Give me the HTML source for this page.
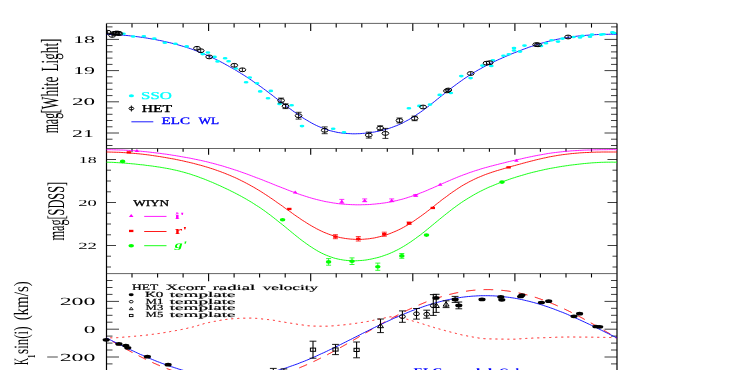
<!DOCTYPE html>
<html><head><meta charset="utf-8"><style>
html,body{margin:0;padding:0;background:#fff;overflow:hidden}
svg{display:block;will-change:transform;opacity:0.999}
text{font-family:"Liberation Serif",serif;text-rendering:geometricPrecision;}
</style></head><body>
<svg width="756" height="370" viewBox="0 0 756 370">
<rect width="756" height="370" fill="#fff"/>
<line x1="106.5" y1="23.4" x2="106.5" y2="371.0" stroke="#000" stroke-width="1.2"/>
<line x1="617.0" y1="23.4" x2="617.0" y2="371.0" stroke="#000" stroke-width="1.2"/>
<line x1="106.5" y1="23.4" x2="617.0" y2="23.4" stroke="#222" stroke-width="0.7"/>
<line x1="106.5" y1="148.5" x2="617.0" y2="148.5" stroke="#222" stroke-width="0.7"/>
<line x1="106.5" y1="273.6" x2="617.0" y2="273.6" stroke="#222" stroke-width="0.7"/>
<line x1="132.0" y1="23.4" x2="132.0" y2="27.6" stroke="#000" stroke-width="1.1"/>
<line x1="132.0" y1="148.5" x2="132.0" y2="151.7" stroke="#000" stroke-width="1.1"/>
<line x1="132.0" y1="273.6" x2="132.0" y2="277.5" stroke="#000" stroke-width="1.1"/>
<line x1="157.6" y1="23.4" x2="157.6" y2="27.6" stroke="#000" stroke-width="1.1"/>
<line x1="157.6" y1="148.5" x2="157.6" y2="151.7" stroke="#000" stroke-width="1.1"/>
<line x1="157.6" y1="273.6" x2="157.6" y2="277.5" stroke="#000" stroke-width="1.1"/>
<line x1="183.1" y1="23.4" x2="183.1" y2="27.6" stroke="#000" stroke-width="1.1"/>
<line x1="183.1" y1="148.5" x2="183.1" y2="151.7" stroke="#000" stroke-width="1.1"/>
<line x1="183.1" y1="273.6" x2="183.1" y2="277.5" stroke="#000" stroke-width="1.1"/>
<line x1="208.6" y1="23.4" x2="208.6" y2="31.0" stroke="#000" stroke-width="1.1"/>
<line x1="208.6" y1="148.5" x2="208.6" y2="154.8" stroke="#000" stroke-width="1.1"/>
<line x1="208.6" y1="273.6" x2="208.6" y2="281.2" stroke="#000" stroke-width="1.1"/>
<line x1="234.1" y1="23.4" x2="234.1" y2="27.6" stroke="#000" stroke-width="1.1"/>
<line x1="234.1" y1="148.5" x2="234.1" y2="151.7" stroke="#000" stroke-width="1.1"/>
<line x1="234.1" y1="273.6" x2="234.1" y2="277.5" stroke="#000" stroke-width="1.1"/>
<line x1="259.6" y1="23.4" x2="259.6" y2="27.6" stroke="#000" stroke-width="1.1"/>
<line x1="259.6" y1="148.5" x2="259.6" y2="151.7" stroke="#000" stroke-width="1.1"/>
<line x1="259.6" y1="273.6" x2="259.6" y2="277.5" stroke="#000" stroke-width="1.1"/>
<line x1="285.2" y1="23.4" x2="285.2" y2="27.6" stroke="#000" stroke-width="1.1"/>
<line x1="285.2" y1="148.5" x2="285.2" y2="151.7" stroke="#000" stroke-width="1.1"/>
<line x1="285.2" y1="273.6" x2="285.2" y2="277.5" stroke="#000" stroke-width="1.1"/>
<line x1="310.7" y1="23.4" x2="310.7" y2="31.0" stroke="#000" stroke-width="1.1"/>
<line x1="310.7" y1="148.5" x2="310.7" y2="154.8" stroke="#000" stroke-width="1.1"/>
<line x1="310.7" y1="273.6" x2="310.7" y2="281.2" stroke="#000" stroke-width="1.1"/>
<line x1="336.2" y1="23.4" x2="336.2" y2="27.6" stroke="#000" stroke-width="1.1"/>
<line x1="336.2" y1="148.5" x2="336.2" y2="151.7" stroke="#000" stroke-width="1.1"/>
<line x1="336.2" y1="273.6" x2="336.2" y2="277.5" stroke="#000" stroke-width="1.1"/>
<line x1="361.8" y1="23.4" x2="361.8" y2="27.6" stroke="#000" stroke-width="1.1"/>
<line x1="361.8" y1="148.5" x2="361.8" y2="151.7" stroke="#000" stroke-width="1.1"/>
<line x1="361.8" y1="273.6" x2="361.8" y2="277.5" stroke="#000" stroke-width="1.1"/>
<line x1="387.3" y1="23.4" x2="387.3" y2="27.6" stroke="#000" stroke-width="1.1"/>
<line x1="387.3" y1="148.5" x2="387.3" y2="151.7" stroke="#000" stroke-width="1.1"/>
<line x1="387.3" y1="273.6" x2="387.3" y2="277.5" stroke="#000" stroke-width="1.1"/>
<line x1="412.8" y1="23.4" x2="412.8" y2="31.0" stroke="#000" stroke-width="1.1"/>
<line x1="412.8" y1="148.5" x2="412.8" y2="154.8" stroke="#000" stroke-width="1.1"/>
<line x1="412.8" y1="273.6" x2="412.8" y2="281.2" stroke="#000" stroke-width="1.1"/>
<line x1="438.3" y1="23.4" x2="438.3" y2="27.6" stroke="#000" stroke-width="1.1"/>
<line x1="438.3" y1="148.5" x2="438.3" y2="151.7" stroke="#000" stroke-width="1.1"/>
<line x1="438.3" y1="273.6" x2="438.3" y2="277.5" stroke="#000" stroke-width="1.1"/>
<line x1="463.8" y1="23.4" x2="463.8" y2="27.6" stroke="#000" stroke-width="1.1"/>
<line x1="463.8" y1="148.5" x2="463.8" y2="151.7" stroke="#000" stroke-width="1.1"/>
<line x1="463.8" y1="273.6" x2="463.8" y2="277.5" stroke="#000" stroke-width="1.1"/>
<line x1="489.4" y1="23.4" x2="489.4" y2="27.6" stroke="#000" stroke-width="1.1"/>
<line x1="489.4" y1="148.5" x2="489.4" y2="151.7" stroke="#000" stroke-width="1.1"/>
<line x1="489.4" y1="273.6" x2="489.4" y2="277.5" stroke="#000" stroke-width="1.1"/>
<line x1="514.9" y1="23.4" x2="514.9" y2="31.0" stroke="#000" stroke-width="1.1"/>
<line x1="514.9" y1="148.5" x2="514.9" y2="154.8" stroke="#000" stroke-width="1.1"/>
<line x1="514.9" y1="273.6" x2="514.9" y2="281.2" stroke="#000" stroke-width="1.1"/>
<line x1="540.4" y1="23.4" x2="540.4" y2="27.6" stroke="#000" stroke-width="1.1"/>
<line x1="540.4" y1="148.5" x2="540.4" y2="151.7" stroke="#000" stroke-width="1.1"/>
<line x1="540.4" y1="273.6" x2="540.4" y2="277.5" stroke="#000" stroke-width="1.1"/>
<line x1="566.0" y1="23.4" x2="566.0" y2="27.6" stroke="#000" stroke-width="1.1"/>
<line x1="566.0" y1="148.5" x2="566.0" y2="151.7" stroke="#000" stroke-width="1.1"/>
<line x1="566.0" y1="273.6" x2="566.0" y2="277.5" stroke="#000" stroke-width="1.1"/>
<line x1="591.5" y1="23.4" x2="591.5" y2="27.6" stroke="#000" stroke-width="1.1"/>
<line x1="591.5" y1="148.5" x2="591.5" y2="151.7" stroke="#000" stroke-width="1.1"/>
<line x1="591.5" y1="273.6" x2="591.5" y2="277.5" stroke="#000" stroke-width="1.1"/>
<line x1="106.5" y1="26.9" x2="112.5" y2="26.9" stroke="#000" stroke-width="0.75"/>
<line x1="611.0" y1="26.9" x2="617.0" y2="26.9" stroke="#000" stroke-width="0.75"/>
<line x1="106.5" y1="33.2" x2="112.5" y2="33.2" stroke="#000" stroke-width="0.75"/>
<line x1="611.0" y1="33.2" x2="617.0" y2="33.2" stroke="#000" stroke-width="0.75"/>
<line x1="106.5" y1="39.4" x2="119.0" y2="39.4" stroke="#000" stroke-width="0.75"/>
<line x1="604.5" y1="39.4" x2="617.0" y2="39.4" stroke="#000" stroke-width="0.75"/>
<line x1="106.5" y1="45.6" x2="112.5" y2="45.6" stroke="#000" stroke-width="0.75"/>
<line x1="611.0" y1="45.6" x2="617.0" y2="45.6" stroke="#000" stroke-width="0.75"/>
<line x1="106.5" y1="51.9" x2="112.5" y2="51.9" stroke="#000" stroke-width="0.75"/>
<line x1="611.0" y1="51.9" x2="617.0" y2="51.9" stroke="#000" stroke-width="0.75"/>
<line x1="106.5" y1="58.1" x2="112.5" y2="58.1" stroke="#000" stroke-width="0.75"/>
<line x1="611.0" y1="58.1" x2="617.0" y2="58.1" stroke="#000" stroke-width="0.75"/>
<line x1="106.5" y1="64.4" x2="112.5" y2="64.4" stroke="#000" stroke-width="0.75"/>
<line x1="611.0" y1="64.4" x2="617.0" y2="64.4" stroke="#000" stroke-width="0.75"/>
<line x1="106.5" y1="70.6" x2="119.0" y2="70.6" stroke="#000" stroke-width="0.75"/>
<line x1="604.5" y1="70.6" x2="617.0" y2="70.6" stroke="#000" stroke-width="0.75"/>
<line x1="106.5" y1="76.8" x2="112.5" y2="76.8" stroke="#000" stroke-width="0.75"/>
<line x1="611.0" y1="76.8" x2="617.0" y2="76.8" stroke="#000" stroke-width="0.75"/>
<line x1="106.5" y1="83.1" x2="112.5" y2="83.1" stroke="#000" stroke-width="0.75"/>
<line x1="611.0" y1="83.1" x2="617.0" y2="83.1" stroke="#000" stroke-width="0.75"/>
<line x1="106.5" y1="89.3" x2="112.5" y2="89.3" stroke="#000" stroke-width="0.75"/>
<line x1="611.0" y1="89.3" x2="617.0" y2="89.3" stroke="#000" stroke-width="0.75"/>
<line x1="106.5" y1="95.6" x2="112.5" y2="95.6" stroke="#000" stroke-width="0.75"/>
<line x1="611.0" y1="95.6" x2="617.0" y2="95.6" stroke="#000" stroke-width="0.75"/>
<line x1="106.5" y1="101.8" x2="119.0" y2="101.8" stroke="#000" stroke-width="0.75"/>
<line x1="604.5" y1="101.8" x2="617.0" y2="101.8" stroke="#000" stroke-width="0.75"/>
<line x1="106.5" y1="108.0" x2="112.5" y2="108.0" stroke="#000" stroke-width="0.75"/>
<line x1="611.0" y1="108.0" x2="617.0" y2="108.0" stroke="#000" stroke-width="0.75"/>
<line x1="106.5" y1="114.3" x2="112.5" y2="114.3" stroke="#000" stroke-width="0.75"/>
<line x1="611.0" y1="114.3" x2="617.0" y2="114.3" stroke="#000" stroke-width="0.75"/>
<line x1="106.5" y1="120.5" x2="112.5" y2="120.5" stroke="#000" stroke-width="0.75"/>
<line x1="611.0" y1="120.5" x2="617.0" y2="120.5" stroke="#000" stroke-width="0.75"/>
<line x1="106.5" y1="126.8" x2="112.5" y2="126.8" stroke="#000" stroke-width="0.75"/>
<line x1="611.0" y1="126.8" x2="617.0" y2="126.8" stroke="#000" stroke-width="0.75"/>
<line x1="106.5" y1="133.0" x2="119.0" y2="133.0" stroke="#000" stroke-width="0.75"/>
<line x1="604.5" y1="133.0" x2="617.0" y2="133.0" stroke="#000" stroke-width="0.75"/>
<line x1="106.5" y1="139.2" x2="112.5" y2="139.2" stroke="#000" stroke-width="0.75"/>
<line x1="611.0" y1="139.2" x2="617.0" y2="139.2" stroke="#000" stroke-width="0.75"/>
<line x1="106.5" y1="145.5" x2="112.5" y2="145.5" stroke="#000" stroke-width="0.75"/>
<line x1="611.0" y1="145.5" x2="617.0" y2="145.5" stroke="#000" stroke-width="0.75"/>
<line x1="106.5" y1="159.5" x2="116.0" y2="159.5" stroke="#000" stroke-width="0.75"/>
<line x1="607.5" y1="159.5" x2="617.0" y2="159.5" stroke="#000" stroke-width="0.75"/>
<line x1="106.5" y1="170.2" x2="111.0" y2="170.2" stroke="#000" stroke-width="0.75"/>
<line x1="612.5" y1="170.2" x2="617.0" y2="170.2" stroke="#000" stroke-width="0.75"/>
<line x1="106.5" y1="181.0" x2="111.0" y2="181.0" stroke="#000" stroke-width="0.75"/>
<line x1="612.5" y1="181.0" x2="617.0" y2="181.0" stroke="#000" stroke-width="0.75"/>
<line x1="106.5" y1="191.8" x2="111.0" y2="191.8" stroke="#000" stroke-width="0.75"/>
<line x1="612.5" y1="191.8" x2="617.0" y2="191.8" stroke="#000" stroke-width="0.75"/>
<line x1="106.5" y1="202.5" x2="116.0" y2="202.5" stroke="#000" stroke-width="0.75"/>
<line x1="607.5" y1="202.5" x2="617.0" y2="202.5" stroke="#000" stroke-width="0.75"/>
<line x1="106.5" y1="213.2" x2="111.0" y2="213.2" stroke="#000" stroke-width="0.75"/>
<line x1="612.5" y1="213.2" x2="617.0" y2="213.2" stroke="#000" stroke-width="0.75"/>
<line x1="106.5" y1="224.0" x2="111.0" y2="224.0" stroke="#000" stroke-width="0.75"/>
<line x1="612.5" y1="224.0" x2="617.0" y2="224.0" stroke="#000" stroke-width="0.75"/>
<line x1="106.5" y1="234.8" x2="111.0" y2="234.8" stroke="#000" stroke-width="0.75"/>
<line x1="612.5" y1="234.8" x2="617.0" y2="234.8" stroke="#000" stroke-width="0.75"/>
<line x1="106.5" y1="245.5" x2="116.0" y2="245.5" stroke="#000" stroke-width="0.75"/>
<line x1="607.5" y1="245.5" x2="617.0" y2="245.5" stroke="#000" stroke-width="0.75"/>
<line x1="106.5" y1="256.2" x2="111.0" y2="256.2" stroke="#000" stroke-width="0.75"/>
<line x1="612.5" y1="256.2" x2="617.0" y2="256.2" stroke="#000" stroke-width="0.75"/>
<line x1="106.5" y1="267.0" x2="111.0" y2="267.0" stroke="#000" stroke-width="0.75"/>
<line x1="612.5" y1="267.0" x2="617.0" y2="267.0" stroke="#000" stroke-width="0.75"/>
<line x1="106.5" y1="280.5" x2="112.5" y2="280.5" stroke="#000" stroke-width="0.75"/>
<line x1="611.0" y1="280.5" x2="617.0" y2="280.5" stroke="#000" stroke-width="0.75"/>
<line x1="106.5" y1="287.5" x2="112.5" y2="287.5" stroke="#000" stroke-width="0.75"/>
<line x1="611.0" y1="287.5" x2="617.0" y2="287.5" stroke="#000" stroke-width="0.75"/>
<line x1="106.5" y1="294.4" x2="112.5" y2="294.4" stroke="#000" stroke-width="0.75"/>
<line x1="611.0" y1="294.4" x2="617.0" y2="294.4" stroke="#000" stroke-width="0.75"/>
<line x1="106.5" y1="301.4" x2="119.0" y2="301.4" stroke="#000" stroke-width="0.75"/>
<line x1="604.5" y1="301.4" x2="617.0" y2="301.4" stroke="#000" stroke-width="0.75"/>
<line x1="106.5" y1="308.3" x2="112.5" y2="308.3" stroke="#000" stroke-width="0.75"/>
<line x1="611.0" y1="308.3" x2="617.0" y2="308.3" stroke="#000" stroke-width="0.75"/>
<line x1="106.5" y1="315.3" x2="112.5" y2="315.3" stroke="#000" stroke-width="0.75"/>
<line x1="611.0" y1="315.3" x2="617.0" y2="315.3" stroke="#000" stroke-width="0.75"/>
<line x1="106.5" y1="322.2" x2="112.5" y2="322.2" stroke="#000" stroke-width="0.75"/>
<line x1="611.0" y1="322.2" x2="617.0" y2="322.2" stroke="#000" stroke-width="0.75"/>
<line x1="106.5" y1="329.2" x2="119.0" y2="329.2" stroke="#000" stroke-width="0.75"/>
<line x1="604.5" y1="329.2" x2="617.0" y2="329.2" stroke="#000" stroke-width="0.75"/>
<line x1="106.5" y1="336.1" x2="112.5" y2="336.1" stroke="#000" stroke-width="0.75"/>
<line x1="611.0" y1="336.1" x2="617.0" y2="336.1" stroke="#000" stroke-width="0.75"/>
<line x1="106.5" y1="343.1" x2="112.5" y2="343.1" stroke="#000" stroke-width="0.75"/>
<line x1="611.0" y1="343.1" x2="617.0" y2="343.1" stroke="#000" stroke-width="0.75"/>
<line x1="106.5" y1="350.0" x2="112.5" y2="350.0" stroke="#000" stroke-width="0.75"/>
<line x1="611.0" y1="350.0" x2="617.0" y2="350.0" stroke="#000" stroke-width="0.75"/>
<line x1="106.5" y1="357.0" x2="119.0" y2="357.0" stroke="#000" stroke-width="0.75"/>
<line x1="604.5" y1="357.0" x2="617.0" y2="357.0" stroke="#000" stroke-width="0.75"/>
<line x1="106.5" y1="363.9" x2="112.5" y2="363.9" stroke="#000" stroke-width="0.75"/>
<line x1="611.0" y1="363.9" x2="617.0" y2="363.9" stroke="#000" stroke-width="0.75"/>
<line x1="106.5" y1="370.9" x2="112.5" y2="370.9" stroke="#000" stroke-width="0.75"/>
<line x1="611.0" y1="370.9" x2="617.0" y2="370.9" stroke="#000" stroke-width="0.75"/>
<text transform="translate(73.13,43.30) scale(2.116,1)" font-size="10.37" font-weight="normal" font-style="normal" fill="#000" >18</text>
<text transform="translate(73.13,74.00) scale(2.100,1)" font-size="10.45" font-weight="normal" font-style="normal" fill="#000" >19</text>
<text transform="translate(71.96,105.30) scale(2.234,1)" font-size="10.37" font-weight="normal" font-style="normal" fill="#000" >20</text>
<text transform="translate(72.02,136.70) scale(2.054,1)" font-size="10.61" font-weight="normal" font-style="normal" fill="#000" >21</text>
<text transform="translate(78.77,162.91) scale(1.953,1)" font-size="9.19" font-weight="normal" font-style="normal" fill="#000" >18</text>
<text transform="translate(78.16,205.81) scale(2.023,1)" font-size="9.19" font-weight="normal" font-style="normal" fill="#000" >20</text>
<text transform="translate(78.15,248.90) scale(2.011,1)" font-size="9.39" font-weight="normal" font-style="normal" fill="#000" >22</text>
<text transform="translate(59.63,305.09) scale(2.179,1)" font-size="10.96" font-weight="normal" font-style="normal" fill="#000" >200</text>
<text transform="translate(83.77,332.89) scale(2.188,1)" font-size="10.67" font-weight="normal" font-style="normal" fill="#000" >0</text>
<text transform="translate(59.63,360.59) scale(2.209,1)" font-size="10.81" font-weight="normal" font-style="normal" fill="#000" >200</text>
<line x1="47.2" y1="357.0" x2="57.8" y2="357.0" stroke="#000" stroke-width="0.7"/>
<text transform="translate(58.47,113.60) rotate(-90) scale(1.108,2.058)" font-size="12.0" font-weight="normal" fill="#000">[White</text>
<text transform="translate(58.47,133.34) rotate(-90) scale(0.987,2.058)" font-size="12.0" font-weight="normal" fill="#000">mag</text>
<text transform="translate(58.47,71.39) rotate(-90) scale(1.093,2.058)" font-size="12.0" font-weight="normal" fill="#000">Light]</text>
<text transform="translate(64.48,219.53) rotate(-90) scale(1.028,1.988)" font-size="12.0" font-weight="normal" fill="#000">[SDSS]</text>
<text transform="translate(64.48,240.55) rotate(-90) scale(1.027,1.988)" font-size="12.0" font-weight="normal" fill="#000">mag</text>
<text transform="translate(34.50,358.12) rotate(-90) scale(0.541,0.909)" font-size="12.0" font-weight="bold" fill="#000">1</text>
<text transform="translate(28.11,320.37) rotate(-90) scale(1.248,1.703)" font-size="12.0" font-weight="normal" fill="#000">(km/s)</text>
<text transform="translate(28.11,353.92) rotate(-90) scale(1.084,1.703)" font-size="12.0" font-weight="normal" fill="#000">sin(i)</text>
<text transform="translate(28.11,365.00) rotate(-90) scale(0.821,1.703)" font-size="12.0" font-weight="normal" fill="#000">K</text>
<clipPath id="c1"><rect x="106.5" y="23" width="510.5" height="126"/></clipPath><g clip-path="url(#c1)">
<path d="M106.5,34.3 L108.2,34.3 L109.9,34.4 L111.6,34.5 L113.3,34.5 L115.0,34.6 L116.7,34.7 L118.5,34.8 L120.2,34.9 L121.9,35.1 L123.6,35.2 L125.3,35.4 L127.0,35.5 L128.7,35.7 L130.4,35.9 L132.1,36.1 L133.8,36.3 L135.5,36.5 L137.2,36.7 L138.9,36.9 L140.6,37.2 L142.4,37.4 L144.1,37.7 L145.8,37.9 L147.5,38.2 L149.2,38.5 L150.9,38.8 L152.6,39.1 L154.3,39.4 L156.0,39.7 L157.7,40.1 L159.4,40.4 L161.1,40.7 L162.8,41.1 L164.6,41.5 L166.3,41.9 L168.0,42.3 L169.7,42.7 L171.4,43.1 L173.1,43.5 L174.8,44.0 L176.5,44.4 L178.2,44.9 L179.9,45.4 L181.6,45.9 L183.3,46.4 L185.0,46.9 L186.7,47.5 L188.5,48.0 L190.2,48.6 L191.9,49.2 L193.6,49.8 L195.3,50.5 L197.0,51.1 L198.7,51.8 L200.4,52.5 L202.1,53.2 L203.8,53.9 L205.5,54.6 L207.2,55.4 L208.9,56.1 L210.6,56.9 L212.4,57.7 L214.1,58.5 L215.8,59.4 L217.5,60.2 L219.2,61.1 L220.9,61.9 L222.6,62.8 L224.3,63.7 L226.0,64.7 L227.7,65.6 L229.4,66.6 L231.1,67.5 L232.8,68.5 L234.6,69.5 L236.3,70.5 L238.0,71.6 L239.7,72.6 L241.4,73.7 L243.1,74.7 L244.8,75.8 L246.5,76.9 L248.2,78.0 L249.9,79.2 L251.6,80.3 L253.3,81.5 L255.0,82.7 L256.7,83.9 L258.5,85.1 L260.2,86.3 L261.9,87.5 L263.6,88.8 L265.3,90.0 L267.0,91.3 L268.7,92.6 L270.4,93.9 L272.1,95.1 L273.8,96.5 L275.5,97.8 L277.2,99.1 L278.9,100.4 L280.7,101.7 L282.4,103.0 L284.1,104.3 L285.8,105.6 L287.5,106.9 L289.2,108.2 L290.9,109.4 L292.6,110.7 L294.3,111.9 L296.0,113.1 L297.7,114.3 L299.4,115.5 L301.1,116.7 L302.8,117.8 L304.6,118.9 L306.3,119.9 L308.0,120.9 L309.7,121.9 L311.4,122.9 L313.1,123.8 L314.8,124.7 L316.5,125.5 L318.2,126.3 L319.9,127.0 L321.6,127.7 L323.3,128.4 L325.0,129.0 L326.7,129.6 L328.5,130.2 L330.2,130.7 L331.9,131.1 L333.6,131.5 L335.3,131.9 L337.0,132.3 L338.7,132.6 L340.4,132.8 L342.1,133.1 L343.8,133.3 L345.5,133.4 L347.2,133.5 L348.9,133.6 L350.7,133.7 L352.4,133.8 L354.1,133.8 L355.8,133.8 L357.5,133.7 L359.2,133.7 L360.9,133.6 L362.6,133.4 L364.3,133.3 L366.0,133.1 L367.7,133.0 L369.4,132.7 L371.1,132.5 L372.8,132.2 L374.6,132.0 L376.3,131.6 L378.0,131.3 L379.7,130.9 L381.4,130.5 L383.1,130.1 L384.8,129.7 L386.5,129.2 L388.2,128.7 L389.9,128.1 L391.6,127.5 L393.3,126.9 L395.0,126.2 L396.8,125.6 L398.5,124.8 L400.2,124.1 L401.9,123.3 L403.6,122.4 L405.3,121.5 L407.0,120.6 L408.7,119.7 L410.4,118.7 L412.1,117.6 L413.8,116.6 L415.5,115.5 L417.2,114.3 L418.9,113.2 L420.7,112.0 L422.4,110.8 L424.1,109.5 L425.8,108.3 L427.5,107.0 L429.2,105.7 L430.9,104.3 L432.6,103.0 L434.3,101.7 L436.0,100.3 L437.7,98.9 L439.4,97.6 L441.1,96.2 L442.8,94.8 L444.6,93.5 L446.3,92.1 L448.0,90.8 L449.7,89.4 L451.4,88.1 L453.1,86.8 L454.8,85.5 L456.5,84.3 L458.2,83.0 L459.9,81.8 L461.6,80.6 L463.3,79.4 L465.0,78.2 L466.8,77.1 L468.5,75.9 L470.2,74.8 L471.9,73.8 L473.6,72.7 L475.3,71.7 L477.0,70.7 L478.7,69.7 L480.4,68.8 L482.1,67.8 L483.8,66.9 L485.5,66.0 L487.2,65.1 L488.9,64.2 L490.7,63.4 L492.4,62.6 L494.1,61.7 L495.8,60.9 L497.5,60.1 L499.2,59.3 L500.9,58.6 L502.6,57.8 L504.3,57.1 L506.0,56.3 L507.7,55.6 L509.4,54.9 L511.1,54.1 L512.9,53.4 L514.6,52.7 L516.3,52.1 L518.0,51.4 L519.7,50.7 L521.4,50.1 L523.1,49.4 L524.8,48.8 L526.5,48.2 L528.2,47.5 L529.9,46.9 L531.6,46.4 L533.3,45.8 L535.0,45.2 L536.8,44.7 L538.5,44.2 L540.2,43.6 L541.9,43.1 L543.6,42.7 L545.3,42.2 L547.0,41.7 L548.7,41.3 L550.4,40.9 L552.1,40.5 L553.8,40.1 L555.5,39.7 L557.2,39.3 L558.9,39.0 L560.7,38.7 L562.4,38.4 L564.1,38.1 L565.8,37.8 L567.5,37.5 L569.2,37.2 L570.9,37.0 L572.6,36.8 L574.3,36.5 L576.0,36.3 L577.7,36.1 L579.4,35.9 L581.1,35.8 L582.9,35.6 L584.6,35.5 L586.3,35.3 L588.0,35.2 L589.7,35.0 L591.4,34.9 L593.1,34.8 L594.8,34.7 L596.5,34.6 L598.2,34.5 L599.9,34.5 L601.6,34.4 L603.3,34.4 L605.0,34.3 L606.8,34.3 L608.5,34.3 L610.2,34.2 L611.9,34.2 L613.6,34.3 L615.3,34.3 L617.0,34.3" fill="none" stroke="#0000ff" stroke-width="0.9"/>
<ellipse cx="123.5" cy="33.8" rx="2.4" ry="1.3" fill="#00ffff"/>
<ellipse cx="133.2" cy="36.5" rx="2.4" ry="1.3" fill="#00ffff"/>
<ellipse cx="143.8" cy="36.2" rx="2.4" ry="1.3" fill="#00ffff"/>
<ellipse cx="154.3" cy="38.6" rx="2.4" ry="1.3" fill="#00ffff"/>
<ellipse cx="164.8" cy="42.7" rx="2.4" ry="1.3" fill="#00ffff"/>
<ellipse cx="175.4" cy="43.8" rx="2.4" ry="1.3" fill="#00ffff"/>
<ellipse cx="186.7" cy="46.4" rx="2.4" ry="1.3" fill="#00ffff"/>
<ellipse cx="202.7" cy="54.1" rx="2.4" ry="1.3" fill="#00ffff"/>
<ellipse cx="207.9" cy="52.5" rx="2.4" ry="1.3" fill="#00ffff"/>
<ellipse cx="214.5" cy="56.9" rx="2.4" ry="1.3" fill="#00ffff"/>
<ellipse cx="217.6" cy="61.4" rx="2.4" ry="1.3" fill="#00ffff"/>
<ellipse cx="225.1" cy="58.2" rx="2.4" ry="1.3" fill="#00ffff"/>
<ellipse cx="228.6" cy="61.3" rx="2.4" ry="1.3" fill="#00ffff"/>
<ellipse cx="235.9" cy="68.5" rx="2.4" ry="1.3" fill="#00ffff"/>
<ellipse cx="246.1" cy="82.3" rx="2.4" ry="1.3" fill="#00ffff"/>
<ellipse cx="249.7" cy="77.5" rx="2.4" ry="1.3" fill="#00ffff"/>
<ellipse cx="257.0" cy="83.3" rx="2.4" ry="1.3" fill="#00ffff"/>
<ellipse cx="260.2" cy="91.4" rx="2.4" ry="1.3" fill="#00ffff"/>
<ellipse cx="270.8" cy="90.9" rx="2.4" ry="1.3" fill="#00ffff"/>
<ellipse cx="268.0" cy="98.2" rx="2.4" ry="1.3" fill="#00ffff"/>
<ellipse cx="279.5" cy="103.9" rx="2.4" ry="1.3" fill="#00ffff"/>
<ellipse cx="291.6" cy="105.3" rx="2.4" ry="1.3" fill="#00ffff"/>
<ellipse cx="302.0" cy="126.1" rx="2.4" ry="1.3" fill="#00ffff"/>
<ellipse cx="333.2" cy="128.8" rx="2.4" ry="1.3" fill="#00ffff"/>
<ellipse cx="344.0" cy="132.2" rx="2.4" ry="1.3" fill="#00ffff"/>
<ellipse cx="408.9" cy="108.3" rx="2.4" ry="1.3" fill="#00ffff"/>
<ellipse cx="419.4" cy="105.9" rx="2.4" ry="1.3" fill="#00ffff"/>
<ellipse cx="430.0" cy="104.6" rx="2.4" ry="1.3" fill="#00ffff"/>
<ellipse cx="439.7" cy="94.9" rx="2.4" ry="1.3" fill="#00ffff"/>
<ellipse cx="450.8" cy="93.0" rx="2.4" ry="1.3" fill="#00ffff"/>
<ellipse cx="461.3" cy="76.1" rx="2.4" ry="1.3" fill="#00ffff"/>
<ellipse cx="470.6" cy="78.1" rx="2.4" ry="1.3" fill="#00ffff"/>
<ellipse cx="482.4" cy="65.6" rx="2.4" ry="1.3" fill="#00ffff"/>
<ellipse cx="491.3" cy="65.9" rx="2.4" ry="1.3" fill="#00ffff"/>
<ellipse cx="492.9" cy="60.3" rx="2.4" ry="1.3" fill="#00ffff"/>
<ellipse cx="503.5" cy="55.7" rx="2.4" ry="1.3" fill="#00ffff"/>
<ellipse cx="508.8" cy="54.3" rx="2.4" ry="1.3" fill="#00ffff"/>
<ellipse cx="514.0" cy="48.1" rx="2.4" ry="1.3" fill="#00ffff"/>
<ellipse cx="514.0" cy="50.5" rx="2.4" ry="1.3" fill="#00ffff"/>
<ellipse cx="520.0" cy="51.6" rx="2.4" ry="1.3" fill="#00ffff"/>
<ellipse cx="524.5" cy="45.6" rx="2.4" ry="1.3" fill="#00ffff"/>
<ellipse cx="541.0" cy="45.9" rx="2.4" ry="1.3" fill="#00ffff"/>
<ellipse cx="546.0" cy="43.2" rx="2.4" ry="1.3" fill="#00ffff"/>
<ellipse cx="551.6" cy="40.3" rx="2.4" ry="1.3" fill="#00ffff"/>
<ellipse cx="558.0" cy="41.6" rx="2.4" ry="1.3" fill="#00ffff"/>
<ellipse cx="562.5" cy="38.6" rx="2.4" ry="1.3" fill="#00ffff"/>
<ellipse cx="573.5" cy="37.0" rx="2.4" ry="1.3" fill="#00ffff"/>
<ellipse cx="580.0" cy="37.5" rx="2.4" ry="1.3" fill="#00ffff"/>
<ellipse cx="582.4" cy="35.9" rx="2.4" ry="1.3" fill="#00ffff"/>
<ellipse cx="590.0" cy="36.7" rx="2.4" ry="1.3" fill="#00ffff"/>
<ellipse cx="592.0" cy="34.6" rx="2.4" ry="1.3" fill="#00ffff"/>
<ellipse cx="601.0" cy="34.6" rx="2.4" ry="1.3" fill="#00ffff"/>
<ellipse cx="603.5" cy="34.3" rx="2.4" ry="1.3" fill="#00ffff"/>
<ellipse cx="612.4" cy="32.2" rx="2.4" ry="1.3" fill="#00ffff"/>
<ellipse cx="614.0" cy="33.0" rx="2.4" ry="1.3" fill="#00ffff"/>
<ellipse cx="107.6" cy="32.2" rx="3.4" ry="1.9" fill="none" stroke="#000" stroke-width="1.0"/>
<line x1="107.6" y1="30.3" x2="107.6" y2="34.1" stroke="#000" stroke-width="0.9"/>
<ellipse cx="112.2" cy="35.4" rx="3.4" ry="1.9" fill="none" stroke="#000" stroke-width="1.0"/>
<line x1="112.2" y1="33.5" x2="112.2" y2="37.3" stroke="#000" stroke-width="0.9"/>
<ellipse cx="113.8" cy="33.5" rx="3.4" ry="1.9" fill="none" stroke="#000" stroke-width="1.0"/>
<line x1="113.8" y1="31.6" x2="113.8" y2="35.4" stroke="#000" stroke-width="0.9"/>
<ellipse cx="115.4" cy="33.2" rx="3.4" ry="1.9" fill="none" stroke="#000" stroke-width="1.0"/>
<line x1="115.4" y1="31.3" x2="115.4" y2="35.1" stroke="#000" stroke-width="0.9"/>
<ellipse cx="116.8" cy="33.0" rx="3.4" ry="1.9" fill="none" stroke="#000" stroke-width="1.0"/>
<line x1="116.8" y1="31.1" x2="116.8" y2="34.9" stroke="#000" stroke-width="0.9"/>
<ellipse cx="118.2" cy="33.2" rx="3.4" ry="1.9" fill="none" stroke="#000" stroke-width="1.0"/>
<line x1="118.2" y1="31.3" x2="118.2" y2="35.1" stroke="#000" stroke-width="0.9"/>
<ellipse cx="119.3" cy="33.6" rx="3.4" ry="1.9" fill="none" stroke="#000" stroke-width="1.0"/>
<line x1="119.3" y1="31.7" x2="119.3" y2="35.5" stroke="#000" stroke-width="0.9"/>
<ellipse cx="197.0" cy="48.3" rx="3.4" ry="1.9" fill="none" stroke="#000" stroke-width="1.0"/>
<line x1="197.0" y1="46.4" x2="197.0" y2="50.2" stroke="#000" stroke-width="0.9"/>
<ellipse cx="200.7" cy="50.7" rx="3.4" ry="1.9" fill="none" stroke="#000" stroke-width="1.0"/>
<line x1="200.7" y1="48.8" x2="200.7" y2="52.6" stroke="#000" stroke-width="0.9"/>
<ellipse cx="209.2" cy="56.9" rx="3.4" ry="1.9" fill="none" stroke="#000" stroke-width="1.0"/>
<line x1="209.2" y1="55.0" x2="209.2" y2="58.8" stroke="#000" stroke-width="0.9"/>
<ellipse cx="234.3" cy="65.3" rx="3.4" ry="1.9" fill="none" stroke="#000" stroke-width="1.0"/>
<line x1="234.3" y1="63.4" x2="234.3" y2="67.2" stroke="#000" stroke-width="0.9"/>
<ellipse cx="242.4" cy="69.8" rx="3.4" ry="1.9" fill="none" stroke="#000" stroke-width="1.0"/>
<line x1="242.4" y1="67.9" x2="242.4" y2="71.7" stroke="#000" stroke-width="0.9"/>
<ellipse cx="281.1" cy="100.5" rx="3.4" ry="1.9" fill="none" stroke="#000" stroke-width="1.0"/>
<line x1="281.1" y1="98.1" x2="281.1" y2="102.9" stroke="#000" stroke-width="0.9"/>
<line x1="278.1" y1="98.1" x2="284.1" y2="98.1" stroke="#000" stroke-width="0.8"/>
<line x1="278.1" y1="102.9" x2="284.1" y2="102.9" stroke="#000" stroke-width="0.8"/>
<ellipse cx="285.5" cy="106.2" rx="3.4" ry="1.9" fill="none" stroke="#000" stroke-width="1.0"/>
<line x1="285.5" y1="103.8" x2="285.5" y2="108.6" stroke="#000" stroke-width="0.9"/>
<line x1="282.5" y1="103.8" x2="288.5" y2="103.8" stroke="#000" stroke-width="0.8"/>
<line x1="282.5" y1="108.6" x2="288.5" y2="108.6" stroke="#000" stroke-width="0.8"/>
<ellipse cx="298.6" cy="115.7" rx="3.4" ry="1.9" fill="none" stroke="#000" stroke-width="1.0"/>
<line x1="298.6" y1="112.3" x2="298.6" y2="119.1" stroke="#000" stroke-width="0.9"/>
<line x1="295.6" y1="112.3" x2="301.6" y2="112.3" stroke="#000" stroke-width="0.8"/>
<line x1="295.6" y1="119.1" x2="301.6" y2="119.1" stroke="#000" stroke-width="0.8"/>
<ellipse cx="324.7" cy="130.3" rx="3.4" ry="1.9" fill="none" stroke="#000" stroke-width="1.0"/>
<line x1="324.7" y1="126.9" x2="324.7" y2="133.7" stroke="#000" stroke-width="0.9"/>
<line x1="321.7" y1="126.9" x2="327.7" y2="126.9" stroke="#000" stroke-width="0.8"/>
<line x1="321.7" y1="133.7" x2="327.7" y2="133.7" stroke="#000" stroke-width="0.8"/>
<ellipse cx="368.8" cy="135.1" rx="3.4" ry="1.9" fill="none" stroke="#000" stroke-width="1.0"/>
<line x1="368.8" y1="132.1" x2="368.8" y2="138.1" stroke="#000" stroke-width="0.9"/>
<line x1="365.8" y1="132.1" x2="371.8" y2="132.1" stroke="#000" stroke-width="0.8"/>
<line x1="365.8" y1="138.1" x2="371.8" y2="138.1" stroke="#000" stroke-width="0.8"/>
<ellipse cx="380.2" cy="128.1" rx="3.4" ry="1.9" fill="none" stroke="#000" stroke-width="1.0"/>
<line x1="380.2" y1="125.8" x2="380.2" y2="130.4" stroke="#000" stroke-width="0.9"/>
<line x1="377.2" y1="125.8" x2="383.2" y2="125.8" stroke="#000" stroke-width="0.8"/>
<line x1="377.2" y1="130.4" x2="383.2" y2="130.4" stroke="#000" stroke-width="0.8"/>
<ellipse cx="385.4" cy="133.4" rx="3.4" ry="1.9" fill="none" stroke="#000" stroke-width="1.0"/>
<line x1="385.4" y1="128.4" x2="385.4" y2="138.4" stroke="#000" stroke-width="0.9"/>
<line x1="382.4" y1="128.4" x2="388.4" y2="128.4" stroke="#000" stroke-width="0.8"/>
<line x1="382.4" y1="138.4" x2="388.4" y2="138.4" stroke="#000" stroke-width="0.8"/>
<ellipse cx="399.5" cy="120.5" rx="3.4" ry="1.9" fill="none" stroke="#000" stroke-width="1.0"/>
<line x1="399.5" y1="118.0" x2="399.5" y2="123.0" stroke="#000" stroke-width="0.9"/>
<line x1="396.5" y1="118.0" x2="402.5" y2="118.0" stroke="#000" stroke-width="0.8"/>
<line x1="396.5" y1="123.0" x2="402.5" y2="123.0" stroke="#000" stroke-width="0.8"/>
<ellipse cx="414.6" cy="118.4" rx="3.4" ry="1.9" fill="none" stroke="#000" stroke-width="1.0"/>
<line x1="414.6" y1="116.1" x2="414.6" y2="120.7" stroke="#000" stroke-width="0.9"/>
<line x1="411.6" y1="116.1" x2="417.6" y2="116.1" stroke="#000" stroke-width="0.8"/>
<line x1="411.6" y1="120.7" x2="417.6" y2="120.7" stroke="#000" stroke-width="0.8"/>
<ellipse cx="423.1" cy="107.0" rx="3.4" ry="1.9" fill="none" stroke="#000" stroke-width="1.0"/>
<line x1="423.1" y1="105.1" x2="423.1" y2="108.9" stroke="#000" stroke-width="0.9"/>
<ellipse cx="448.3" cy="90.0" rx="3.4" ry="1.9" fill="none" stroke="#000" stroke-width="1.0"/>
<line x1="448.3" y1="88.1" x2="448.3" y2="91.9" stroke="#000" stroke-width="0.9"/>
<ellipse cx="446.9" cy="90.9" rx="3.4" ry="1.9" fill="none" stroke="#000" stroke-width="1.0"/>
<line x1="446.9" y1="89.0" x2="446.9" y2="92.8" stroke="#000" stroke-width="0.9"/>
<ellipse cx="470.7" cy="73.5" rx="3.4" ry="1.9" fill="none" stroke="#000" stroke-width="1.0"/>
<line x1="470.7" y1="71.6" x2="470.7" y2="75.4" stroke="#000" stroke-width="0.9"/>
<ellipse cx="486.5" cy="63.2" rx="3.4" ry="1.9" fill="none" stroke="#000" stroke-width="1.0"/>
<line x1="486.5" y1="61.3" x2="486.5" y2="65.1" stroke="#000" stroke-width="0.9"/>
<ellipse cx="489.7" cy="62.7" rx="3.4" ry="1.9" fill="none" stroke="#000" stroke-width="1.0"/>
<line x1="489.7" y1="60.8" x2="489.7" y2="64.6" stroke="#000" stroke-width="0.9"/>
<ellipse cx="536.2" cy="44.6" rx="3.4" ry="1.9" fill="none" stroke="#000" stroke-width="1.0"/>
<line x1="536.2" y1="42.7" x2="536.2" y2="46.5" stroke="#000" stroke-width="0.9"/>
<ellipse cx="538.0" cy="44.8" rx="3.4" ry="1.9" fill="none" stroke="#000" stroke-width="1.0"/>
<line x1="538.0" y1="42.9" x2="538.0" y2="46.7" stroke="#000" stroke-width="0.9"/>
<ellipse cx="568.1" cy="37.0" rx="3.4" ry="1.9" fill="none" stroke="#000" stroke-width="1.0"/>
<line x1="568.1" y1="35.1" x2="568.1" y2="38.9" stroke="#000" stroke-width="0.9"/>
</g>
<ellipse cx="131.4" cy="95.8" rx="2.6" ry="1.5" fill="#00ffff"/>
<text transform="translate(141.11,98.90) scale(1.627,1)" font-size="10.30" font-weight="normal" font-style="normal" fill="#00ffff"  stroke="#00ffff" stroke-width="0.3" paint-order="stroke">SSO</text>
<ellipse cx="131.4" cy="108.5" rx="2.4" ry="1.4" fill="none" stroke="#000" stroke-width="1.0"/>
<line x1="131.4" y1="105.5" x2="131.4" y2="111.5" stroke="#000" stroke-width="0.9"/>
<text transform="translate(141.73,111.70) scale(1.489,1)" font-size="10.53" font-weight="normal" font-style="normal" fill="#000"  stroke="#000" stroke-width="0.3" paint-order="stroke">HET</text>
<line x1="131.4" y1="121.8" x2="153.3" y2="121.8" stroke="#0000ff" stroke-width="0.9"/>
<text transform="translate(161.55,124.10) scale(1.500,1)" font-size="10.00" font-weight="normal" font-style="normal" fill="#0000ff"  stroke="#0000ff" stroke-width="0.3" paint-order="stroke">ELC</text>
<text transform="translate(198.60,124.05) scale(1.324,1)" font-size="10.00" font-weight="normal" font-style="normal" fill="#0000ff"  stroke="#0000ff" stroke-width="0.3" paint-order="stroke">WL</text>
<path d="M106.5,149.7 L108.2,149.7 L109.9,149.7 L111.6,149.7 L113.3,149.8 L115.0,149.8 L116.7,149.9 L118.5,149.9 L120.2,150.0 L121.9,150.0 L123.6,150.1 L125.3,150.2 L127.0,150.3 L128.7,150.4 L130.4,150.5 L132.1,150.6 L133.8,150.7 L135.5,150.8 L137.2,151.0 L138.9,151.1 L140.6,151.2 L142.4,151.4 L144.1,151.6 L145.8,151.7 L147.5,151.9 L149.2,152.1 L150.9,152.3 L152.6,152.5 L154.3,152.7 L156.0,152.9 L157.7,153.1 L159.4,153.3 L161.1,153.5 L162.8,153.8 L164.6,154.0 L166.3,154.2 L168.0,154.5 L169.7,154.7 L171.4,155.0 L173.1,155.3 L174.8,155.5 L176.5,155.8 L178.2,156.1 L179.9,156.4 L181.6,156.7 L183.3,157.0 L185.0,157.3 L186.7,157.6 L188.5,157.9 L190.2,158.2 L191.9,158.6 L193.6,158.9 L195.3,159.3 L197.0,159.6 L198.7,160.0 L200.4,160.3 L202.1,160.7 L203.8,161.1 L205.5,161.5 L207.2,161.9 L208.9,162.3 L210.6,162.8 L212.4,163.2 L214.1,163.7 L215.8,164.1 L217.5,164.6 L219.2,165.1 L220.9,165.5 L222.6,166.0 L224.3,166.5 L226.0,167.1 L227.7,167.6 L229.4,168.1 L231.1,168.7 L232.8,169.2 L234.6,169.8 L236.3,170.3 L238.0,170.9 L239.7,171.5 L241.4,172.1 L243.1,172.7 L244.8,173.3 L246.5,173.9 L248.2,174.5 L249.9,175.2 L251.6,175.8 L253.3,176.5 L255.0,177.1 L256.7,177.8 L258.5,178.4 L260.2,179.1 L261.9,179.7 L263.6,180.4 L265.3,181.1 L267.0,181.8 L268.7,182.4 L270.4,183.1 L272.1,183.8 L273.8,184.5 L275.5,185.2 L277.2,185.9 L278.9,186.5 L280.7,187.2 L282.4,187.9 L284.1,188.5 L285.8,189.2 L287.5,189.9 L289.2,190.5 L290.9,191.2 L292.6,191.8 L294.3,192.4 L296.0,193.1 L297.7,193.7 L299.4,194.3 L301.1,194.9 L302.8,195.4 L304.6,196.0 L306.3,196.5 L308.0,197.1 L309.7,197.6 L311.4,198.1 L313.1,198.6 L314.8,199.0 L316.5,199.5 L318.2,199.9 L319.9,200.3 L321.6,200.7 L323.3,201.1 L325.0,201.5 L326.7,201.8 L328.5,202.1 L330.2,202.4 L331.9,202.7 L333.6,203.0 L335.3,203.2 L337.0,203.5 L338.7,203.7 L340.4,203.9 L342.1,204.0 L343.8,204.2 L345.5,204.3 L347.2,204.4 L348.9,204.5 L350.7,204.6 L352.4,204.7 L354.1,204.7 L355.8,204.8 L357.5,204.8 L359.2,204.8 L360.9,204.8 L362.6,204.7 L364.3,204.7 L366.0,204.6 L367.7,204.6 L369.4,204.5 L371.1,204.4 L372.8,204.2 L374.6,204.1 L376.3,203.9 L378.0,203.7 L379.7,203.6 L381.4,203.3 L383.1,203.1 L384.8,202.9 L386.5,202.6 L388.2,202.3 L389.9,202.0 L391.6,201.7 L393.3,201.3 L395.0,200.9 L396.8,200.6 L398.5,200.1 L400.2,199.7 L401.9,199.3 L403.6,198.8 L405.3,198.3 L407.0,197.8 L408.7,197.2 L410.4,196.7 L412.1,196.1 L413.8,195.5 L415.5,194.9 L417.2,194.3 L418.9,193.6 L420.7,192.9 L422.4,192.3 L424.1,191.6 L425.8,190.9 L427.5,190.2 L429.2,189.4 L430.9,188.7 L432.6,188.0 L434.3,187.2 L436.0,186.5 L437.7,185.7 L439.4,184.9 L441.1,184.2 L442.8,183.4 L444.6,182.7 L446.3,181.9 L448.0,181.2 L449.7,180.5 L451.4,179.7 L453.1,179.0 L454.8,178.3 L456.5,177.6 L458.2,176.9 L459.9,176.2 L461.6,175.6 L463.3,174.9 L465.0,174.3 L466.8,173.7 L468.5,173.0 L470.2,172.4 L471.9,171.9 L473.6,171.3 L475.3,170.7 L477.0,170.2 L478.7,169.7 L480.4,169.1 L482.1,168.6 L483.8,168.1 L485.5,167.6 L487.2,167.2 L488.9,166.7 L490.7,166.2 L492.4,165.8 L494.1,165.3 L495.8,164.9 L497.5,164.5 L499.2,164.0 L500.9,163.6 L502.6,163.2 L504.3,162.8 L506.0,162.3 L507.7,161.9 L509.4,161.5 L511.1,161.1 L512.9,160.7 L514.6,160.3 L516.3,159.9 L518.0,159.5 L519.7,159.2 L521.4,158.8 L523.1,158.4 L524.8,158.0 L526.5,157.6 L528.2,157.3 L529.9,156.9 L531.6,156.6 L533.3,156.2 L535.0,155.9 L536.8,155.5 L538.5,155.2 L540.2,154.9 L541.9,154.6 L543.6,154.3 L545.3,154.0 L547.0,153.7 L548.7,153.4 L550.4,153.2 L552.1,152.9 L553.8,152.7 L555.5,152.5 L557.2,152.3 L558.9,152.1 L560.7,151.9 L562.4,151.7 L564.1,151.5 L565.8,151.3 L567.5,151.2 L569.2,151.1 L570.9,150.9 L572.6,150.8 L574.3,150.7 L576.0,150.6 L577.7,150.5 L579.4,150.4 L581.1,150.3 L582.9,150.2 L584.6,150.1 L586.3,150.1 L588.0,150.0 L589.7,150.0 L591.4,149.9 L593.1,149.9 L594.8,149.8 L596.5,149.8 L598.2,149.8 L599.9,149.7 L601.6,149.7 L603.3,149.7 L605.0,149.7 L606.8,149.7 L608.5,149.6 L610.2,149.6 L611.9,149.6 L613.6,149.6 L615.3,149.7 L617.0,149.7" fill="none" stroke="#ff00ff" stroke-width="0.9"/>
<path d="M106.5,152.0 L108.2,152.0 L109.9,152.1 L111.6,152.1 L113.3,152.2 L115.0,152.2 L116.7,152.3 L118.5,152.3 L120.2,152.4 L121.9,152.5 L123.6,152.6 L125.3,152.7 L127.0,152.8 L128.7,152.9 L130.4,153.1 L132.1,153.2 L133.8,153.4 L135.5,153.5 L137.2,153.7 L138.9,153.8 L140.6,154.0 L142.4,154.2 L144.1,154.4 L145.8,154.6 L147.5,154.8 L149.2,155.0 L150.9,155.3 L152.6,155.5 L154.3,155.8 L156.0,156.0 L157.7,156.3 L159.4,156.5 L161.1,156.8 L162.8,157.1 L164.6,157.4 L166.3,157.7 L168.0,158.0 L169.7,158.3 L171.4,158.6 L173.1,158.9 L174.8,159.2 L176.5,159.6 L178.2,159.9 L179.9,160.3 L181.6,160.6 L183.3,161.0 L185.0,161.4 L186.7,161.8 L188.5,162.2 L190.2,162.6 L191.9,163.0 L193.6,163.4 L195.3,163.9 L197.0,164.3 L198.7,164.8 L200.4,165.2 L202.1,165.7 L203.8,166.2 L205.5,166.7 L207.2,167.2 L208.9,167.7 L210.6,168.3 L212.4,168.8 L214.1,169.4 L215.8,170.0 L217.5,170.6 L219.2,171.2 L220.9,171.8 L222.6,172.5 L224.3,173.1 L226.0,173.8 L227.7,174.5 L229.4,175.2 L231.1,175.9 L232.8,176.7 L234.6,177.4 L236.3,178.2 L238.0,179.0 L239.7,179.8 L241.4,180.7 L243.1,181.5 L244.8,182.4 L246.5,183.3 L248.2,184.2 L249.9,185.1 L251.6,186.1 L253.3,187.0 L255.0,188.0 L256.7,189.0 L258.5,190.1 L260.2,191.1 L261.9,192.2 L263.6,193.3 L265.3,194.4 L267.0,195.5 L268.7,196.6 L270.4,197.8 L272.1,198.9 L273.8,200.1 L275.5,201.3 L277.2,202.5 L278.9,203.7 L280.7,204.9 L282.4,206.1 L284.1,207.4 L285.8,208.6 L287.5,209.8 L289.2,211.0 L290.9,212.2 L292.6,213.5 L294.3,214.7 L296.0,215.9 L297.7,217.0 L299.4,218.2 L301.1,219.4 L302.8,220.5 L304.6,221.6 L306.3,222.7 L308.0,223.8 L309.7,224.8 L311.4,225.8 L313.1,226.8 L314.8,227.7 L316.5,228.7 L318.2,229.5 L319.9,230.4 L321.6,231.2 L323.3,232.0 L325.0,232.7 L326.7,233.4 L328.5,234.1 L330.2,234.7 L331.9,235.3 L333.6,235.8 L335.3,236.3 L337.0,236.8 L338.7,237.2 L340.4,237.6 L342.1,237.9 L343.8,238.2 L345.5,238.5 L347.2,238.7 L348.9,238.9 L350.7,239.1 L352.4,239.2 L354.1,239.3 L355.8,239.4 L357.5,239.4 L359.2,239.4 L360.9,239.4 L362.6,239.3 L364.3,239.2 L366.0,239.0 L367.7,238.9 L369.4,238.7 L371.1,238.4 L372.8,238.2 L374.6,237.9 L376.3,237.5 L378.0,237.1 L379.7,236.7 L381.4,236.3 L383.1,235.8 L384.8,235.3 L386.5,234.8 L388.2,234.2 L389.9,233.6 L391.6,232.9 L393.3,232.2 L395.0,231.5 L396.8,230.7 L398.5,229.9 L400.2,229.1 L401.9,228.2 L403.6,227.3 L405.3,226.3 L407.0,225.4 L408.7,224.3 L410.4,223.3 L412.1,222.2 L413.8,221.1 L415.5,219.9 L417.2,218.7 L418.9,217.5 L420.7,216.3 L422.4,215.0 L424.1,213.8 L425.8,212.5 L427.5,211.2 L429.2,209.9 L430.9,208.5 L432.6,207.2 L434.3,205.9 L436.0,204.5 L437.7,203.2 L439.4,201.9 L441.1,200.5 L442.8,199.2 L444.6,197.9 L446.3,196.7 L448.0,195.4 L449.7,194.1 L451.4,192.9 L453.1,191.7 L454.8,190.6 L456.5,189.4 L458.2,188.3 L459.9,187.2 L461.6,186.1 L463.3,185.1 L465.0,184.1 L466.8,183.2 L468.5,182.2 L470.2,181.3 L471.9,180.5 L473.6,179.6 L475.3,178.8 L477.0,178.0 L478.7,177.3 L480.4,176.6 L482.1,175.9 L483.8,175.2 L485.5,174.5 L487.2,173.9 L488.9,173.3 L490.7,172.7 L492.4,172.1 L494.1,171.6 L495.8,171.0 L497.5,170.5 L499.2,170.0 L500.9,169.5 L502.6,169.0 L504.3,168.5 L506.0,168.0 L507.7,167.5 L509.4,167.0 L511.1,166.5 L512.9,166.0 L514.6,165.6 L516.3,165.1 L518.0,164.6 L519.7,164.2 L521.4,163.7 L523.1,163.2 L524.8,162.8 L526.5,162.3 L528.2,161.9 L529.9,161.4 L531.6,161.0 L533.3,160.6 L535.0,160.1 L536.8,159.7 L538.5,159.3 L540.2,158.9 L541.9,158.5 L543.6,158.1 L545.3,157.8 L547.0,157.4 L548.7,157.0 L550.4,156.7 L552.1,156.4 L553.8,156.1 L555.5,155.8 L557.2,155.5 L558.9,155.2 L560.7,155.0 L562.4,154.7 L564.1,154.5 L565.8,154.3 L567.5,154.1 L569.2,153.9 L570.9,153.7 L572.6,153.5 L574.3,153.4 L576.0,153.2 L577.7,153.1 L579.4,152.9 L581.1,152.8 L582.9,152.7 L584.6,152.6 L586.3,152.5 L588.0,152.5 L589.7,152.4 L591.4,152.3 L593.1,152.2 L594.8,152.2 L596.5,152.1 L598.2,152.1 L599.9,152.1 L601.6,152.0 L603.3,152.0 L605.0,152.0 L606.8,152.0 L608.5,152.0 L610.2,152.0 L611.9,152.0 L613.6,152.0 L615.3,152.0 L617.0,152.0" fill="none" stroke="#ff0000" stroke-width="0.9"/>
<path d="M106.5,162.2 L108.2,162.2 L109.9,162.3 L111.6,162.3 L113.3,162.4 L115.0,162.5 L116.7,162.6 L118.5,162.7 L120.2,162.8 L121.9,162.9 L123.6,163.0 L125.3,163.2 L127.0,163.3 L128.7,163.5 L130.4,163.6 L132.1,163.8 L133.8,163.9 L135.5,164.1 L137.2,164.3 L138.9,164.5 L140.6,164.7 L142.4,164.8 L144.1,165.0 L145.8,165.3 L147.5,165.5 L149.2,165.7 L150.9,165.9 L152.6,166.1 L154.3,166.4 L156.0,166.6 L157.7,166.9 L159.4,167.1 L161.1,167.4 L162.8,167.7 L164.6,168.0 L166.3,168.3 L168.0,168.6 L169.7,168.9 L171.4,169.3 L173.1,169.7 L174.8,170.0 L176.5,170.4 L178.2,170.8 L179.9,171.2 L181.6,171.7 L183.3,172.1 L185.0,172.6 L186.7,173.1 L188.5,173.6 L190.2,174.1 L191.9,174.7 L193.6,175.3 L195.3,175.8 L197.0,176.4 L198.7,177.0 L200.4,177.7 L202.1,178.3 L203.8,178.9 L205.5,179.6 L207.2,180.3 L208.9,181.0 L210.6,181.7 L212.4,182.4 L214.1,183.2 L215.8,183.9 L217.5,184.7 L219.2,185.4 L220.9,186.2 L222.6,187.0 L224.3,187.8 L226.0,188.6 L227.7,189.4 L229.4,190.2 L231.1,191.1 L232.8,191.9 L234.6,192.8 L236.3,193.7 L238.0,194.6 L239.7,195.5 L241.4,196.4 L243.1,197.4 L244.8,198.3 L246.5,199.3 L248.2,200.3 L249.9,201.3 L251.6,202.3 L253.3,203.4 L255.0,204.5 L256.7,205.6 L258.5,206.7 L260.2,207.8 L261.9,209.0 L263.6,210.2 L265.3,211.4 L267.0,212.7 L268.7,213.9 L270.4,215.2 L272.1,216.5 L273.8,217.8 L275.5,219.2 L277.2,220.5 L278.9,221.9 L280.7,223.3 L282.4,224.6 L284.1,226.0 L285.8,227.4 L287.5,228.8 L289.2,230.2 L290.9,231.6 L292.6,233.0 L294.3,234.4 L296.0,235.8 L297.7,237.1 L299.4,238.5 L301.1,239.8 L302.8,241.1 L304.6,242.4 L306.3,243.6 L308.0,244.8 L309.7,246.0 L311.4,247.1 L313.1,248.2 L314.8,249.3 L316.5,250.3 L318.2,251.3 L319.9,252.2 L321.6,253.1 L323.3,253.9 L325.0,254.7 L326.7,255.4 L328.5,256.1 L330.2,256.7 L331.9,257.3 L333.6,257.9 L335.3,258.4 L337.0,258.8 L338.7,259.2 L340.4,259.5 L342.1,259.8 L343.8,260.1 L345.5,260.3 L347.2,260.5 L348.9,260.6 L350.7,260.7 L352.4,260.8 L354.1,260.8 L355.8,260.8 L357.5,260.7 L359.2,260.6 L360.9,260.5 L362.6,260.4 L364.3,260.2 L366.0,260.0 L367.7,259.7 L369.4,259.4 L371.1,259.1 L372.8,258.7 L374.6,258.3 L376.3,257.9 L378.0,257.5 L379.7,257.0 L381.4,256.5 L383.1,255.9 L384.8,255.3 L386.5,254.7 L388.2,254.1 L389.9,253.4 L391.6,252.6 L393.3,251.9 L395.0,251.0 L396.8,250.2 L398.5,249.3 L400.2,248.4 L401.9,247.4 L403.6,246.4 L405.3,245.4 L407.0,244.3 L408.7,243.2 L410.4,242.1 L412.1,240.9 L413.8,239.7 L415.5,238.5 L417.2,237.2 L418.9,236.0 L420.7,234.7 L422.4,233.3 L424.1,232.0 L425.8,230.6 L427.5,229.2 L429.2,227.8 L430.9,226.4 L432.6,225.0 L434.3,223.6 L436.0,222.2 L437.7,220.8 L439.4,219.4 L441.1,218.0 L442.8,216.6 L444.6,215.2 L446.3,213.8 L448.0,212.5 L449.7,211.2 L451.4,209.8 L453.1,208.5 L454.8,207.3 L456.5,206.0 L458.2,204.8 L459.9,203.6 L461.6,202.4 L463.3,201.3 L465.0,200.2 L466.8,199.1 L468.5,198.0 L470.2,197.0 L471.9,196.0 L473.6,195.0 L475.3,194.0 L477.0,193.1 L478.7,192.2 L480.4,191.3 L482.1,190.5 L483.8,189.6 L485.5,188.8 L487.2,188.0 L488.9,187.2 L490.7,186.5 L492.4,185.8 L494.1,185.1 L495.8,184.4 L497.5,183.7 L499.2,183.0 L500.9,182.4 L502.6,181.7 L504.3,181.1 L506.0,180.5 L507.7,179.9 L509.4,179.3 L511.1,178.7 L512.9,178.1 L514.6,177.6 L516.3,177.0 L518.0,176.5 L519.7,176.0 L521.4,175.5 L523.1,175.0 L524.8,174.5 L526.5,174.0 L528.2,173.5 L529.9,173.1 L531.6,172.6 L533.3,172.2 L535.0,171.8 L536.8,171.4 L538.5,170.9 L540.2,170.6 L541.9,170.2 L543.6,169.8 L545.3,169.4 L547.0,169.1 L548.7,168.7 L550.4,168.4 L552.1,168.1 L553.8,167.8 L555.5,167.5 L557.2,167.2 L558.9,166.9 L560.7,166.6 L562.4,166.3 L564.1,166.1 L565.8,165.8 L567.5,165.6 L569.2,165.3 L570.9,165.1 L572.6,164.9 L574.3,164.7 L576.0,164.5 L577.7,164.3 L579.4,164.1 L581.1,163.9 L582.9,163.7 L584.6,163.5 L586.3,163.4 L588.0,163.2 L589.7,163.1 L591.4,162.9 L593.1,162.8 L594.8,162.7 L596.5,162.6 L598.2,162.5 L599.9,162.4 L601.6,162.3 L603.3,162.3 L605.0,162.2 L606.8,162.2 L608.5,162.2 L610.2,162.2 L611.9,162.1 L613.6,162.2 L615.3,162.2 L617.0,162.2" fill="none" stroke="#00ff00" stroke-width="0.9"/>
<path d="M134.6,152.1 L139.2,152.1 L136.9,149.1 Z" fill="#ff00ff"/>
<path d="M292.9,193.4 L297.5,193.4 L295.2,190.4 Z" fill="#ff00ff"/>
<line x1="341.8" y1="199.4" x2="341.8" y2="203.2" stroke="#ff00ff" stroke-width="0.8"/>
<line x1="339.3" y1="199.4" x2="344.3" y2="199.4" stroke="#ff00ff" stroke-width="0.8"/>
<line x1="339.3" y1="203.2" x2="344.3" y2="203.2" stroke="#ff00ff" stroke-width="0.8"/>
<path d="M339.5,202.8 L344.1,202.8 L341.8,199.8 Z" fill="#ff00ff"/>
<line x1="364.7" y1="198.9" x2="364.7" y2="201.7" stroke="#ff00ff" stroke-width="0.8"/>
<line x1="362.2" y1="198.9" x2="367.2" y2="198.9" stroke="#ff00ff" stroke-width="0.8"/>
<line x1="362.2" y1="201.7" x2="367.2" y2="201.7" stroke="#ff00ff" stroke-width="0.8"/>
<path d="M362.4,201.8 L367.0,201.8 L364.7,198.8 Z" fill="#ff00ff"/>
<line x1="391.7" y1="198.9" x2="391.7" y2="201.7" stroke="#ff00ff" stroke-width="0.8"/>
<line x1="389.2" y1="198.9" x2="394.2" y2="198.9" stroke="#ff00ff" stroke-width="0.8"/>
<line x1="389.2" y1="201.7" x2="394.2" y2="201.7" stroke="#ff00ff" stroke-width="0.8"/>
<path d="M389.4,201.8 L394.0,201.8 L391.7,198.8 Z" fill="#ff00ff"/>
<line x1="415.7" y1="194.5" x2="415.7" y2="196.1" stroke="#ff00ff" stroke-width="0.8"/>
<line x1="413.2" y1="194.5" x2="418.2" y2="194.5" stroke="#ff00ff" stroke-width="0.8"/>
<line x1="413.2" y1="196.1" x2="418.2" y2="196.1" stroke="#ff00ff" stroke-width="0.8"/>
<path d="M413.4,196.8 L418.0,196.8 L415.7,193.8 Z" fill="#ff00ff"/>
<path d="M437.9,185.8 L442.5,185.8 L440.2,182.8 Z" fill="#ff00ff"/>
<path d="M514.1,161.7 L518.7,161.7 L516.4,158.7 Z" fill="#ff00ff"/>
<rect x="126.7" y="151.2" width="4.4" height="2.3" fill="#ff0000"/>
<rect x="287.1" y="207.8" width="4.4" height="2.3" fill="#ff0000"/>
<line x1="335.4" y1="234.7" x2="335.4" y2="238.7" stroke="#ff0000" stroke-width="0.8"/>
<line x1="332.9" y1="234.7" x2="337.9" y2="234.7" stroke="#ff0000" stroke-width="0.8"/>
<line x1="332.9" y1="238.7" x2="337.9" y2="238.7" stroke="#ff0000" stroke-width="0.8"/>
<rect x="333.2" y="235.5" width="4.4" height="2.3" fill="#ff0000"/>
<line x1="358.3" y1="236.6" x2="358.3" y2="241.0" stroke="#ff0000" stroke-width="0.8"/>
<line x1="355.8" y1="236.6" x2="360.8" y2="236.6" stroke="#ff0000" stroke-width="0.8"/>
<line x1="355.8" y1="241.0" x2="360.8" y2="241.0" stroke="#ff0000" stroke-width="0.8"/>
<rect x="356.1" y="237.7" width="4.4" height="2.3" fill="#ff0000"/>
<line x1="384.3" y1="232.2" x2="384.3" y2="236.2" stroke="#ff0000" stroke-width="0.8"/>
<line x1="381.8" y1="232.2" x2="386.8" y2="232.2" stroke="#ff0000" stroke-width="0.8"/>
<line x1="381.8" y1="236.2" x2="386.8" y2="236.2" stroke="#ff0000" stroke-width="0.8"/>
<rect x="382.1" y="233.0" width="4.4" height="2.3" fill="#ff0000"/>
<line x1="409.1" y1="222.0" x2="409.1" y2="224.4" stroke="#ff0000" stroke-width="0.8"/>
<line x1="406.6" y1="222.0" x2="411.6" y2="222.0" stroke="#ff0000" stroke-width="0.8"/>
<line x1="406.6" y1="224.4" x2="411.6" y2="224.4" stroke="#ff0000" stroke-width="0.8"/>
<rect x="406.9" y="222.0" width="4.4" height="2.3" fill="#ff0000"/>
<rect x="430.6" y="206.8" width="4.4" height="2.3" fill="#ff0000"/>
<rect x="506.4" y="166.2" width="4.4" height="2.3" fill="#ff0000"/>
<ellipse cx="122.6" cy="161.4" rx="2.8" ry="1.8" fill="#00ff00"/>
<ellipse cx="282.6" cy="219.7" rx="2.8" ry="1.8" fill="#00ff00"/>
<line x1="328.6" y1="258.6" x2="328.6" y2="265.2" stroke="#00ff00" stroke-width="0.8"/>
<line x1="326.1" y1="258.6" x2="331.1" y2="258.6" stroke="#00ff00" stroke-width="0.8"/>
<line x1="326.1" y1="265.2" x2="331.1" y2="265.2" stroke="#00ff00" stroke-width="0.8"/>
<ellipse cx="328.6" cy="261.9" rx="2.8" ry="1.8" fill="#00ff00"/>
<line x1="352.0" y1="257.9" x2="352.0" y2="264.5" stroke="#00ff00" stroke-width="0.8"/>
<line x1="349.5" y1="257.9" x2="354.5" y2="257.9" stroke="#00ff00" stroke-width="0.8"/>
<line x1="349.5" y1="264.5" x2="354.5" y2="264.5" stroke="#00ff00" stroke-width="0.8"/>
<ellipse cx="352.0" cy="261.2" rx="2.8" ry="1.8" fill="#00ff00"/>
<line x1="377.8" y1="263.1" x2="377.8" y2="270.3" stroke="#00ff00" stroke-width="0.8"/>
<line x1="375.3" y1="263.1" x2="380.3" y2="263.1" stroke="#00ff00" stroke-width="0.8"/>
<line x1="375.3" y1="270.3" x2="380.3" y2="270.3" stroke="#00ff00" stroke-width="0.8"/>
<ellipse cx="377.8" cy="266.7" rx="2.8" ry="1.8" fill="#00ff00"/>
<line x1="401.8" y1="253.5" x2="401.8" y2="258.3" stroke="#00ff00" stroke-width="0.8"/>
<line x1="399.3" y1="253.5" x2="404.3" y2="253.5" stroke="#00ff00" stroke-width="0.8"/>
<line x1="399.3" y1="258.3" x2="404.3" y2="258.3" stroke="#00ff00" stroke-width="0.8"/>
<ellipse cx="401.8" cy="255.9" rx="2.8" ry="1.8" fill="#00ff00"/>
<ellipse cx="426.5" cy="235.1" rx="2.8" ry="1.8" fill="#00ff00"/>
<ellipse cx="502.0" cy="182.1" rx="2.8" ry="1.8" fill="#00ff00"/>
<text transform="translate(133.20,205.57) scale(1.476,1)" font-size="8.96" font-weight="normal" font-style="normal" fill="#000"  stroke="#000" stroke-width="0.3" paint-order="stroke">WIYN</text>
<path d="M128.9,217.1 L133.5,217.1 L131.2,214.1 Z" fill="#ff00ff"/>
<line x1="144.2" y1="216.4" x2="166.5" y2="216.4" stroke="#ff00ff" stroke-width="0.9"/>
<text transform="translate(174.84,219.20) scale(1.877,1)" font-size="9.50" font-weight="bold" font-style="normal" fill="#ff00ff" >i'</text>
<rect x="129.0" y="229.8" width="4.4" height="2.3" fill="#ff0000"/>
<line x1="144.2" y1="231.5" x2="166.5" y2="231.5" stroke="#ff0000" stroke-width="0.9"/>
<text transform="translate(174.77,234.00) scale(1.615,1)" font-size="10.69" font-weight="bold" font-style="normal" fill="#ff0000" >r'</text>
<ellipse cx="131.2" cy="245.7" rx="2.8" ry="1.8" fill="#00ff00"/>
<line x1="144.2" y1="245.7" x2="166.5" y2="245.7" stroke="#00ff00" stroke-width="0.9"/>
<text transform="translate(174.72,247.90) scale(1.614,1)" font-size="9.77" font-weight="bold" font-style="italic" fill="#00ff00" >g'</text>
<clipPath id="c3"><rect x="106" y="274" width="511.5" height="96"/></clipPath>
<path d="M106.2,337.6 L106.3,337.6 M110.2,337.8 L110.5,337.8 L110.9,337.8 L111.3,337.8 L111.7,337.8 L112.2,337.8 L112.3,337.8 M116.2,337.7 L116.4,337.7 L116.9,337.7 L117.3,337.7 L117.7,337.6 L118.1,337.6 L118.3,337.6 M122.2,337.3 L122.4,337.3 L122.8,337.2 L123.2,337.2 L123.7,337.1 L124.1,337.1 L124.3,337.1 M128.1,336.8 L128.4,336.8 L128.8,336.7 L129.2,336.7 L129.6,336.7 L130.1,336.6 L130.2,336.6 M134.1,336.3 L134.3,336.3 L134.7,336.2 L135.2,336.2 L135.6,336.2 L136.0,336.1 L136.1,336.1 M140.0,335.8 L140.3,335.7 L140.7,335.7 L141.1,335.7 L141.6,335.6 L142.0,335.6 L142.1,335.6 M145.9,335.2 L146.2,335.1 L146.7,335.1 L147.1,335.0 L147.5,335.0 L148.0,334.9 L148.0,334.9 M151.8,334.4 L152.2,334.4 L152.6,334.3 L153.1,334.3 L153.5,334.2 L153.8,334.2 M157.6,333.6 L157.7,333.6 L158.2,333.6 L158.6,333.5 L159.0,333.4 L159.5,333.4 L159.7,333.3 M163.4,332.7 L163.7,332.7 L164.1,332.6 L164.6,332.6 L165.0,332.5 L165.4,332.4 L165.5,332.4 M169.2,331.8 L169.3,331.8 L169.7,331.7 L170.1,331.6 L170.5,331.5 L171.0,331.5 L171.2,331.4 M174.9,330.8 L175.2,330.7 L175.6,330.6 L176.1,330.5 L176.5,330.5 L176.9,330.4 L176.9,330.4 M180.6,329.7 L180.8,329.6 L181.2,329.5 L181.6,329.5 L182.0,329.4 L182.5,329.3 L182.6,329.2 M186.3,328.5 L186.7,328.4 L187.1,328.3 L187.6,328.2 L188.0,328.1 L188.3,328.0 M191.9,327.2 L192.3,327.1 L192.7,327.0 L193.1,326.9 L193.5,326.8 L193.8,326.7 M197.3,325.7 L197.4,325.7 L197.8,325.5 L198.2,325.4 L198.6,325.3 L199.1,325.1 L199.2,325.1 M202.6,324.1 L202.9,324.0 L203.3,323.9 L203.8,323.7 L204.2,323.6 L204.5,323.5 M208.2,322.7 L208.4,322.6 L208.9,322.5 L209.3,322.4 L209.7,322.4 L210.1,322.3 M213.8,321.5 L214.0,321.5 L214.4,321.4 L214.8,321.3 L215.3,321.3 L215.7,321.2 L215.8,321.1 M219.5,320.5 L219.9,320.4 L220.4,320.3 L220.8,320.2 L221.2,320.2 L221.6,320.1 M225.3,319.5 L225.5,319.5 L225.9,319.5 L226.3,319.4 L226.8,319.4 L227.2,319.3 L227.4,319.3 M231.2,318.9 L231.5,318.8 L231.9,318.8 L232.3,318.8 L232.7,318.7 L233.2,318.7 L233.3,318.7 M237.2,318.5 L237.4,318.5 L237.8,318.5 L238.3,318.4 L238.7,318.4 L239.1,318.4 L239.3,318.4 M243.2,318.3 L243.4,318.2 L243.8,318.2 L244.2,318.2 L244.7,318.2 L245.1,318.2 L245.3,318.2 M249.2,318.1 L249.3,318.1 L249.8,318.1 L250.2,318.1 L250.6,318.1 L251.0,318.1 L251.3,318.1 M255.2,318.2 L255.3,318.3 L255.7,318.3 L256.2,318.3 L256.6,318.4 L257.0,318.4 L257.2,318.4 M261.1,318.8 L261.3,318.8 L261.7,318.9 L262.1,318.9 L262.5,319.0 L263.0,319.0 L263.1,319.0 M267.0,319.4 L267.2,319.5 L267.7,319.5 L268.1,319.5 L268.5,319.6 L268.9,319.6 L269.1,319.7 M272.9,320.1 L273.2,320.2 L273.6,320.3 L274.1,320.3 L274.5,320.4 L274.9,320.5 M278.6,321.2 L278.7,321.3 L279.2,321.3 L279.6,321.4 L280.0,321.5 L280.4,321.6 L280.6,321.6 M284.3,322.2 L284.7,322.2 L285.1,322.3 L285.6,322.4 L286.0,322.4 L286.4,322.5 M290.2,323.1 L290.2,323.1 L290.7,323.2 L291.1,323.2 L291.5,323.3 L291.9,323.4 L292.2,323.4 M295.9,324.0 L296.2,324.1 L296.6,324.1 L297.1,324.2 L297.5,324.3 L297.9,324.3 L298.0,324.3 M301.7,324.9 L302.2,324.9 L302.6,325.0 L303.0,325.1 L303.4,325.1 L303.8,325.2 M307.6,325.7 L307.7,325.7 L308.1,325.7 L308.6,325.8 L309.0,325.8 L309.4,325.8 L309.7,325.9 M313.5,326.1 L313.7,326.1 L314.1,326.1 L314.5,326.1 L315.0,326.1 L315.4,326.1 L315.6,326.1 M319.5,326.2 L319.6,326.2 L320.1,326.2 L320.5,326.2 L320.9,326.2 L321.3,326.2 L321.6,326.2 M325.5,326.2 L325.6,326.2 L326.0,326.2 L326.5,326.2 L326.9,326.2 L327.3,326.2 L327.6,326.2 M331.5,325.9 L331.6,325.9 L332.0,325.9 L332.4,325.9 L332.8,325.8 L333.3,325.8 L333.6,325.8 M337.5,325.4 L337.5,325.4 L338.0,325.4 L338.4,325.3 L338.8,325.3 L339.2,325.3 L339.5,325.2 M343.4,324.9 L343.5,324.9 L343.9,324.8 L344.3,324.8 L344.8,324.7 L345.2,324.7 L345.5,324.7 M349.3,324.2 L349.5,324.2 L349.9,324.1 L350.3,324.1 L350.7,324.0 L351.2,324.0 L351.3,324.0 M355.1,323.4 L355.4,323.4 L355.8,323.3 L356.3,323.3 L356.7,323.2 L357.1,323.1 L357.2,323.1 M360.9,322.6 L361.0,322.6 L361.4,322.5 L361.8,322.4 L362.2,322.4 L362.7,322.3 L363.0,322.2 M366.7,321.6 L366.9,321.6 L367.4,321.5 L367.8,321.4 L368.2,321.4 L368.6,321.3 L368.7,321.3 M372.4,320.5 L372.5,320.5 L372.9,320.4 L373.3,320.3 L373.7,320.2 L374.2,320.1 L374.4,320.1 M378.1,319.3 L378.4,319.2 L378.9,319.1 L379.3,319.0 L379.7,319.0 L380.0,318.9 M383.7,318.1 L384.0,318.0 L384.4,318.0 L384.8,317.9 L385.2,317.8 L385.7,317.7 M389.4,316.9 L389.5,316.9 L389.9,316.9 L390.4,316.8 L390.8,316.8 L391.2,316.7 L391.4,316.7 M395.3,316.7 L395.5,316.7 L395.9,316.7 L396.3,316.8 L396.7,316.8 L397.2,316.9 L397.4,316.9 M401.1,317.6 L401.4,317.7 L401.9,317.8 L402.3,317.9 L402.7,318.0 L403.0,318.1 M406.5,319.1 L406.5,319.1 L407.0,319.2 L407.4,319.3 L407.8,319.5 L408.2,319.6 L408.4,319.7 M411.8,320.7 L412.1,320.8 L412.5,320.9 L412.9,321.0 L413.4,321.2 L413.7,321.3 M417.2,322.2 L417.6,322.3 L418.0,322.5 L418.5,322.6 L418.9,322.7 L419.1,322.8 M422.6,323.9 L422.7,323.9 L423.2,324.1 L423.6,324.2 L424.0,324.4 L424.4,324.5 M427.8,325.6 L427.8,325.6 L428.3,325.7 L428.7,325.9 L429.1,326.0 L429.6,326.1 L429.7,326.2 M433.1,327.2 L433.4,327.3 L433.8,327.4 L434.2,327.6 L434.7,327.7 L435.0,327.8 M438.5,328.8 L438.9,328.9 L439.3,329.0 L439.8,329.1 L440.2,329.2 L440.4,329.3 M443.9,330.3 L444.0,330.3 L444.5,330.4 L444.9,330.5 L445.3,330.6 L445.7,330.8 L445.9,330.8 M449.4,331.7 L449.6,331.8 L450.0,331.9 L450.4,332.0 L450.9,332.1 L451.3,332.2 L451.3,332.2 M454.9,333.1 L455.1,333.2 L455.5,333.3 L456.0,333.4 L456.4,333.5 L456.8,333.6 L456.8,333.6 M460.4,334.6 L460.7,334.6 L461.1,334.7 L461.5,334.8 L461.9,334.9 L462.4,335.0 L462.4,335.0 M466.1,335.7 L466.2,335.7 L466.6,335.8 L467.0,335.9 L467.5,336.0 L467.9,336.1 L468.1,336.1 M471.8,336.8 L472.2,336.9 L472.6,337.0 L473.0,337.1 L473.4,337.1 L473.8,337.2 M477.5,337.8 L477.7,337.8 L478.1,337.9 L478.5,338.0 L479.0,338.0 L479.4,338.1 L479.6,338.1 M483.4,338.6 L483.7,338.6 L484.1,338.6 L484.5,338.7 L484.9,338.7 L485.4,338.7 L485.5,338.7 M489.4,338.9 L489.6,338.9 L490.0,338.9 L490.5,338.9 L490.9,338.9 L491.3,338.9 L491.5,338.9 M495.4,339.0 L495.6,339.0 L496.0,339.0 L496.4,339.0 L496.9,339.0 L497.3,339.0 L497.5,339.1 M501.4,339.1 L501.5,339.1 L502.0,339.1 L502.4,339.1 L502.8,339.1 L503.3,339.1 L503.5,339.1 M507.4,339.2 L507.5,339.2 L507.9,339.2 L508.4,339.2 L508.8,339.2 L509.2,339.2 L509.4,339.2 M513.3,339.2 L513.5,339.2 L513.9,339.2 L514.3,339.2 L514.8,339.2 L515.2,339.2 L515.4,339.2 M519.3,338.9 L519.4,338.8 L519.9,338.8 L520.3,338.8 L520.7,338.8 L521.1,338.7 L521.4,338.7 M525.3,338.5 L525.4,338.5 L525.8,338.4 L526.3,338.4 L526.7,338.4 L527.1,338.4 L527.3,338.4 M531.2,338.2 L531.4,338.2 L531.8,338.2 L532.2,338.1 L532.6,338.1 L533.1,338.1 L533.3,338.1 M537.2,338.0 L537.3,337.9 L537.8,337.9 L538.2,337.9 L538.6,337.9 L539.0,337.9 L539.3,337.9 M543.2,337.7 L543.3,337.7 L543.7,337.7 L544.2,337.7 L544.6,337.7 L545.0,337.7 L545.3,337.7 M549.2,337.5 L549.3,337.5 L549.7,337.5 L550.1,337.5 L550.5,337.5 L551.0,337.4 L551.3,337.4 M555.2,337.3 L555.2,337.3 L555.7,337.3 L556.1,337.3 L556.5,337.2 L556.9,337.2 L557.3,337.2 M561.2,337.1 L561.2,337.1 L561.6,337.1 L562.0,337.1 L562.5,337.1 L562.9,337.1 L563.3,337.1 M567.2,337.0 L567.6,337.0 L568.0,337.0 L568.4,337.0 L568.9,337.0 L569.3,337.0 M573.2,337.0 L573.5,337.0 L574.0,337.0 L574.4,337.0 L574.8,337.0 L575.2,337.0 L575.3,337.0 M579.2,337.0 L579.5,337.1 L579.9,337.1 L580.4,337.1 L580.8,337.1 L581.2,337.1 L581.3,337.1 M585.2,337.1 L585.5,337.1 L585.9,337.1 L586.3,337.1 L586.8,337.1 L587.2,337.1 L587.3,337.1 M591.2,337.2 L591.4,337.2 L591.9,337.2 L592.3,337.2 L592.7,337.2 L593.1,337.2 L593.3,337.2 M597.2,337.3 L597.4,337.3 L597.8,337.3 L598.3,337.3 L598.7,337.3 L599.1,337.3 L599.3,337.3 M603.2,337.4 L603.4,337.4 L603.8,337.4 L604.2,337.4 L604.6,337.4 L605.1,337.4 L605.3,337.4 M609.2,337.5 L609.3,337.5 L609.8,337.5 L610.2,337.5 L610.6,337.5 L611.0,337.5 L611.3,337.6 M615.2,337.7 L615.3,337.7 L615.7,337.7 L616.1,337.7 L616.6,337.7 L617.0,337.7" fill="none" stroke="#ff0000" stroke-width="0.95" stroke-linecap="butt"/>
<path d="M106.5,337.9 L106.7,338.1 M112.6,341.4 L112.9,341.6 L113.5,342.0 L114.2,342.4 L114.8,342.7 L115.4,343.1 L116.1,343.5 L116.7,343.8 L117.4,344.2 L118.0,344.6 L118.6,344.9 L119.3,345.3 L119.5,345.4 M125.4,348.7 L125.7,348.8 L126.3,349.2 L126.9,349.6 L127.6,349.9 L128.2,350.2 L128.9,350.6 L129.5,350.9 L130.1,351.3 L130.8,351.6 L131.4,352.0 L132.1,352.3 L132.5,352.5 M138.6,355.7 L139.1,356.0 L139.7,356.3 L140.4,356.6 L141.0,357.0 L141.6,357.3 L142.3,357.6 L142.9,357.9 L143.6,358.2 L144.2,358.5 L144.8,358.9 L145.5,359.2 L145.9,359.4 M152.3,362.4 L152.5,362.5 L153.1,362.8 L153.8,363.1 L154.4,363.4 L155.1,363.6 L155.7,363.9 L156.3,364.2 L157.0,364.5 L157.6,364.8 L158.3,365.0 L158.9,365.3 L159.5,365.6 L160.0,365.8 M166.7,368.5 L167.2,368.7 L167.8,368.9 L168.5,369.2 L169.1,369.4 L169.8,369.7 L170.4,369.9 L171.0,370.1 L171.7,370.4 L172.3,370.6 L172.9,370.8 L173.6,371.1 L174.2,371.3 L174.9,371.5 L174.9,371.5 M182.1,373.8 L182.5,374.0 L183.2,374.2 L183.8,374.4 L184.4,374.6 L185.1,374.7 L185.7,374.9 L186.4,375.1 L187.0,375.3 L187.6,375.5 L188.3,375.6 L188.9,375.8 L189.6,376.0 L190.2,376.1 L190.7,376.3 M198.3,378.1 L198.5,378.1 L199.1,378.2 L199.8,378.4 L200.4,378.5 L201.1,378.6 L201.7,378.7 L202.3,378.8 L203.0,379.0 L203.6,379.1 L204.3,379.2 L204.9,379.3 L205.5,379.4 L206.2,379.5 L206.8,379.6 L207.4,379.7 L207.5,379.7 M215.5,380.8 L215.8,380.8 L216.4,380.9 L217.0,380.9 L217.7,381.0 L218.3,381.1 L219.0,381.1 L219.6,381.2 L220.2,381.2 L220.9,381.3 L221.5,381.3 L222.1,381.4 L222.8,381.4 L223.4,381.4 L224.1,381.5 L224.7,381.5 L225.0,381.5 M233.2,381.7 L233.6,381.7 L234.3,381.7 L234.9,381.7 L235.6,381.7 L236.2,381.7 L236.8,381.6 L237.5,381.6 L238.1,381.6 L238.8,381.6 L239.4,381.5 L240.0,381.5 L240.7,381.5 L241.3,381.5 L242.0,381.4 L242.6,381.4 L242.8,381.4 M250.9,380.6 L251.5,380.6 L252.2,380.5 L252.8,380.4 L253.5,380.3 L254.1,380.2 L254.7,380.1 L255.4,380.1 L256.0,380.0 L256.6,379.9 L257.3,379.8 L257.9,379.7 L258.6,379.6 L259.2,379.5 L259.8,379.4 L260.2,379.3 M268.0,377.7 L268.1,377.7 L268.8,377.6 L269.4,377.4 L270.1,377.3 L270.7,377.1 L271.3,377.0 L272.0,376.8 L272.6,376.6 L273.3,376.5 L273.9,376.3 L274.5,376.2 L275.2,376.0 L275.8,375.8 L276.5,375.6 L276.8,375.5 M284.1,373.4 L284.8,373.2 L285.4,372.9 L286.0,372.7 L286.7,372.5 L287.3,372.3 L288.0,372.1 L288.6,371.9 L289.2,371.6 L289.9,371.4 L290.5,371.2 L291.1,371.0 L291.8,370.7 L292.4,370.5 M299.3,367.9 L299.5,367.8 L300.1,367.5 L300.7,367.3 L301.4,367.0 L302.0,366.7 L302.6,366.5 L303.3,366.2 L303.9,365.9 L304.6,365.7 L305.2,365.4 L305.8,365.1 L306.5,364.8 L307.1,364.6 M313.5,361.6 L314.2,361.3 L314.8,361.0 L315.4,360.7 L316.1,360.4 L316.7,360.1 L317.3,359.8 L318.0,359.4 L318.6,359.1 L319.3,358.8 L319.9,358.5 L320.5,358.2 L320.9,358.0 M327.1,354.8 L327.6,354.6 L328.2,354.2 L328.8,353.9 L329.5,353.5 L330.1,353.2 L330.8,352.9 L331.4,352.5 L332.0,352.2 L332.7,351.8 L333.3,351.5 L334.0,351.1 L334.2,351.0 M340.1,347.7 L340.3,347.6 L341.0,347.2 L341.6,346.9 L342.3,346.5 L342.9,346.1 L343.5,345.8 L344.2,345.4 L344.8,345.1 L345.5,344.7 L346.1,344.3 L346.7,344.0 L347.1,343.8 M352.9,340.4 L353.1,340.3 L353.8,339.9 L354.4,339.5 L355.0,339.2 L355.7,338.8 L356.3,338.4 L357.0,338.0 L357.6,337.7 L358.2,337.3 L358.9,336.9 L359.5,336.5 L359.7,336.4 M365.5,333.0 L365.9,332.8 L366.5,332.4 L367.2,332.1 L367.8,331.7 L368.5,331.3 L369.1,331.0 L369.7,330.6 L370.4,330.2 L371.0,329.8 L371.7,329.5 L372.3,329.1 L372.4,329.1 M378.2,325.7 L378.7,325.4 L379.3,325.1 L380.0,324.7 L380.6,324.3 L381.2,324.0 L381.9,323.6 L382.5,323.3 L383.2,322.9 L383.8,322.6 L384.4,322.2 L385.1,321.8 L385.2,321.8 M391.2,318.5 L391.5,318.3 L392.1,318.0 L392.7,317.7 L393.4,317.3 L394.0,317.0 L394.7,316.6 L395.3,316.3 L395.9,316.0 L396.6,315.6 L397.2,315.3 L397.8,315.0 L398.3,314.7 M404.6,311.6 L404.9,311.4 L405.5,311.1 L406.2,310.8 L406.8,310.5 L407.4,310.2 L408.1,309.9 L408.7,309.6 L409.3,309.3 L410.0,309.0 L410.6,308.7 L411.3,308.4 L411.9,308.1 L412.0,308.0 M418.6,305.1 L418.9,305.0 L419.6,304.7 L420.2,304.4 L420.9,304.2 L421.5,303.9 L422.1,303.6 L422.8,303.4 L423.4,303.1 L424.0,302.8 L424.7,302.6 L425.3,302.3 L426.0,302.1 L426.4,301.9 M433.4,299.3 L433.6,299.3 L434.3,299.0 L434.9,298.8 L435.5,298.6 L436.2,298.4 L436.8,298.2 L437.5,298.0 L438.1,297.8 L438.7,297.6 L439.4,297.3 L440.0,297.1 L440.7,297.0 L441.3,296.8 L441.8,296.6 M449.2,294.6 L449.6,294.4 L450.2,294.3 L450.9,294.1 L451.5,294.0 L452.2,293.8 L452.8,293.7 L453.4,293.5 L454.1,293.4 L454.7,293.2 L455.4,293.1 L456.0,293.0 L456.6,292.8 L457.3,292.7 L457.9,292.6 L458.2,292.5 M466.0,291.2 L466.2,291.2 L466.9,291.1 L467.5,291.0 L468.1,290.9 L468.8,290.8 L469.4,290.7 L470.0,290.6 L470.7,290.6 L471.3,290.5 L472.0,290.4 L472.6,290.4 L473.2,290.3 L473.9,290.2 L474.5,290.2 L475.2,290.1 L475.4,290.1 M483.6,289.7 L484.1,289.6 L484.7,289.6 L485.4,289.6 L486.0,289.6 L486.7,289.6 L487.3,289.6 L487.9,289.6 L488.6,289.6 L489.2,289.6 L489.9,289.6 L490.5,289.6 L491.1,289.7 L491.8,289.7 L492.4,289.7 L493.0,289.7 L493.2,289.7 M501.4,290.3 L501.4,290.3 L502.0,290.3 L502.6,290.4 L503.3,290.5 L503.9,290.5 L504.5,290.6 L505.2,290.7 L505.8,290.8 L506.5,290.8 L507.1,290.9 L507.7,291.0 L508.4,291.1 L509.0,291.2 L509.7,291.3 L510.3,291.4 L510.7,291.5 M518.6,292.9 L518.6,292.9 L519.2,293.0 L519.9,293.2 L520.5,293.3 L521.2,293.5 L521.8,293.6 L522.4,293.8 L523.1,293.9 L523.7,294.1 L524.4,294.2 L525.0,294.4 L525.6,294.6 L526.3,294.7 L526.9,294.9 L527.4,295.0 M534.8,297.2 L535.2,297.3 L535.9,297.5 L536.5,297.7 L537.1,297.9 L537.8,298.1 L538.4,298.4 L539.1,298.6 L539.7,298.8 L540.3,299.0 L541.0,299.2 L541.6,299.5 L542.2,299.7 L542.9,299.9 L543.1,300.0 M550.0,302.6 L550.6,302.9 L551.2,303.1 L551.8,303.4 L552.5,303.7 L553.1,303.9 L553.7,304.2 L554.4,304.5 L555.0,304.8 L555.7,305.0 L556.3,305.3 L556.9,305.6 L557.6,305.9 L557.7,305.9 M564.2,308.9 L564.6,309.1 L565.2,309.4 L565.9,309.7 L566.5,310.0 L567.2,310.3 L567.8,310.6 L568.4,310.9 L569.1,311.3 L569.7,311.6 L570.4,311.9 L571.0,312.2 L571.6,312.5 M577.8,315.7 L578.0,315.8 L578.7,316.2 L579.3,316.5 L579.9,316.9 L580.6,317.2 L581.2,317.5 L581.9,317.9 L582.5,318.2 L583.1,318.6 L583.8,318.9 L584.4,319.3 L584.8,319.5 M590.8,322.8 L591.4,323.2 L592.1,323.5 L592.7,323.9 L593.4,324.3 L594.0,324.6 L594.6,325.0 L595.3,325.3 L595.9,325.7 L596.6,326.1 L597.2,326.4 L597.7,326.7 M603.6,330.1 L603.6,330.1 L604.2,330.5 L604.9,330.9 L605.5,331.2 L606.1,331.6 L606.8,332.0 L607.4,332.4 L608.1,332.7 L608.7,333.1 L609.3,333.5 L610.0,333.8 L610.4,334.1 M616.2,337.5 L616.4,337.6 L617.0,337.9" fill="none" stroke="#ff0000" stroke-width="1.0" stroke-linecap="butt" clip-path="url(#c3)"/>
<path d="M106.5,338.0 L108.2,338.8 L109.9,339.7 L111.6,340.5 L113.3,341.4 L115.0,342.2 L116.7,343.1 L118.5,343.9 L120.2,344.8 L121.9,345.6 L123.6,346.4 L125.3,347.3 L127.0,348.1 L128.7,348.9 L130.4,349.7 L132.1,350.5 L133.8,351.3 L135.5,352.1 L137.2,352.9 L138.9,353.7 L140.6,354.5 L142.4,355.2 L144.1,356.0 L145.8,356.7 L147.5,357.5 L149.2,358.2 L150.9,358.9 L152.6,359.6 L154.3,360.3 L156.0,361.0 L157.7,361.7 L159.4,362.3 L161.1,363.0 L162.8,363.6 L164.6,364.3 L166.3,364.9 L168.0,365.5 L169.7,366.1 L171.4,366.7 L173.1,367.2 L174.8,367.8 L176.5,368.3 L178.2,368.9 L179.9,369.4 L181.6,369.9 L183.3,370.4 L185.0,370.8 L186.7,371.3 L188.5,371.7 L190.2,372.1 L191.9,372.5 L193.6,372.9 L195.3,373.3 L197.0,373.7 L198.7,374.0 L200.4,374.3 L202.1,374.6 L203.8,374.9 L205.5,375.2 L207.2,375.5 L208.9,375.7 L210.6,375.9 L212.4,376.1 L214.1,376.3 L215.8,376.5 L217.5,376.6 L219.2,376.8 L220.9,376.9 L222.6,377.0 L224.3,377.0 L226.0,377.1 L227.7,377.1 L229.4,377.2 L231.1,377.2 L232.8,377.2 L234.6,377.1 L236.3,377.1 L238.0,377.0 L239.7,376.9 L241.4,376.8 L243.1,376.7 L244.8,376.6 L246.5,376.4 L248.2,376.2 L249.9,376.0 L251.6,375.8 L253.3,375.6 L255.0,375.3 L256.7,375.1 L258.5,374.8 L260.2,374.5 L261.9,374.2 L263.6,373.8 L265.3,373.5 L267.0,373.1 L268.7,372.7 L270.4,372.3 L272.1,371.9 L273.8,371.4 L275.5,371.0 L277.2,370.5 L278.9,370.0 L280.7,369.5 L282.4,369.0 L284.1,368.5 L285.8,368.0 L287.5,367.4 L289.2,366.8 L290.9,366.2 L292.6,365.6 L294.3,365.0 L296.0,364.4 L297.7,363.8 L299.4,363.1 L301.1,362.4 L302.8,361.8 L304.6,361.1 L306.3,360.4 L308.0,359.7 L309.7,359.0 L311.4,358.2 L313.1,357.5 L314.8,356.7 L316.5,356.0 L318.2,355.2 L319.9,354.4 L321.6,353.6 L323.3,352.9 L325.0,352.1 L326.7,351.3 L328.5,350.4 L330.2,349.6 L331.9,348.8 L333.6,348.0 L335.3,347.1 L337.0,346.3 L338.7,345.5 L340.4,344.6 L342.1,343.8 L343.8,342.9 L345.5,342.1 L347.2,341.2 L348.9,340.3 L350.7,339.5 L352.4,338.6 L354.1,337.7 L355.8,336.9 L357.5,336.0 L359.2,335.2 L360.9,334.3 L362.6,333.4 L364.3,332.6 L366.0,331.7 L367.7,330.9 L369.4,330.0 L371.1,329.2 L372.8,328.3 L374.6,327.5 L376.3,326.6 L378.0,325.8 L379.7,325.0 L381.4,324.2 L383.1,323.4 L384.8,322.5 L386.5,321.7 L388.2,321.0 L389.9,320.2 L391.6,319.4 L393.3,318.6 L395.0,317.8 L396.8,317.1 L398.5,316.3 L400.2,315.6 L401.9,314.9 L403.6,314.2 L405.3,313.5 L407.0,312.8 L408.7,312.1 L410.4,311.4 L412.1,310.7 L413.8,310.1 L415.5,309.4 L417.2,308.8 L418.9,308.2 L420.7,307.6 L422.4,307.0 L424.1,306.4 L425.8,305.8 L427.5,305.3 L429.2,304.7 L430.9,304.2 L432.6,303.7 L434.3,303.2 L436.0,302.7 L437.7,302.3 L439.4,301.8 L441.1,301.4 L442.8,300.9 L444.6,300.5 L446.3,300.1 L448.0,299.8 L449.7,299.4 L451.4,299.1 L453.1,298.7 L454.8,298.4 L456.5,298.1 L458.2,297.8 L459.9,297.6 L461.6,297.3 L463.3,297.1 L465.0,296.9 L466.8,296.7 L468.5,296.5 L470.2,296.4 L471.9,296.2 L473.6,296.1 L475.3,296.0 L477.0,295.9 L478.7,295.8 L480.4,295.7 L482.1,295.7 L483.8,295.7 L485.5,295.7 L487.2,295.7 L488.9,295.7 L490.7,295.8 L492.4,295.8 L494.1,295.9 L495.8,296.0 L497.5,296.1 L499.2,296.3 L500.9,296.4 L502.6,296.6 L504.3,296.8 L506.0,297.0 L507.7,297.2 L509.4,297.4 L511.1,297.7 L512.9,297.9 L514.6,298.2 L516.3,298.5 L518.0,298.8 L519.7,299.2 L521.4,299.5 L523.1,299.9 L524.8,300.3 L526.5,300.7 L528.2,301.1 L529.9,301.5 L531.6,302.0 L533.3,302.4 L535.0,302.9 L536.8,303.4 L538.5,303.9 L540.2,304.4 L541.9,304.9 L543.6,305.5 L545.3,306.1 L547.0,306.6 L548.7,307.2 L550.4,307.8 L552.1,308.4 L553.8,309.0 L555.5,309.7 L557.2,310.3 L558.9,311.0 L560.7,311.7 L562.4,312.3 L564.1,313.0 L565.8,313.7 L567.5,314.4 L569.2,315.2 L570.9,315.9 L572.6,316.6 L574.3,317.4 L576.0,318.2 L577.7,318.9 L579.4,319.7 L581.1,320.5 L582.9,321.3 L584.6,322.1 L586.3,322.9 L588.0,323.7 L589.7,324.5 L591.4,325.3 L593.1,326.1 L594.8,327.0 L596.5,327.8 L598.2,328.6 L599.9,329.5 L601.6,330.3 L603.3,331.2 L605.0,332.0 L606.8,332.9 L608.5,333.7 L610.2,334.6 L611.9,335.4 L613.6,336.3 L615.3,337.1 L617.0,338.0" fill="none" stroke="#0000ff" stroke-width="0.9" clip-path="url(#c3)"/>
<ellipse cx="106.2" cy="339.8" rx="3.6" ry="1.85" fill="#000"/>
<ellipse cx="118.9" cy="343.9" rx="3.6" ry="1.85" fill="#000"/>
<ellipse cx="125.8" cy="345.5" rx="3.6" ry="1.85" fill="#000"/>
<ellipse cx="127.8" cy="347.8" rx="3.6" ry="1.85" fill="#000"/>
<ellipse cx="147.4" cy="356.7" rx="3.6" ry="1.85" fill="#000"/>
<ellipse cx="168.1" cy="364.7" rx="3.6" ry="1.85" fill="#000"/>
<ellipse cx="482.0" cy="299.4" rx="3.6" ry="1.85" fill="#000"/>
<ellipse cx="500.8" cy="296.9" rx="3.6" ry="1.85" fill="#000"/>
<ellipse cx="501.8" cy="299.8" rx="3.6" ry="1.85" fill="#000"/>
<ellipse cx="520.6" cy="296.5" rx="3.6" ry="1.85" fill="#000"/>
<ellipse cx="521.9" cy="295.2" rx="3.6" ry="1.85" fill="#000"/>
<ellipse cx="541.4" cy="302.5" rx="3.6" ry="1.85" fill="#000"/>
<ellipse cx="548.7" cy="301.2" rx="3.6" ry="1.85" fill="#000"/>
<ellipse cx="574.0" cy="316.3" rx="3.6" ry="1.85" fill="#000"/>
<ellipse cx="579.6" cy="313.7" rx="3.6" ry="1.85" fill="#000"/>
<ellipse cx="595.9" cy="326.5" rx="3.6" ry="1.85" fill="#000"/>
<ellipse cx="599.7" cy="326.8" rx="3.6" ry="1.85" fill="#000"/>
<line x1="455.1" y1="296.4" x2="455.1" y2="302.4" stroke="#000" stroke-width="1.1"/>
<line x1="451.7" y1="296.4" x2="458.5" y2="296.4" stroke="#000" stroke-width="0.9"/>
<line x1="451.7" y1="302.4" x2="458.5" y2="302.4" stroke="#000" stroke-width="0.9"/>
<ellipse cx="455.1" cy="299.4" rx="3.6" ry="1.85" fill="#000"/>
<line x1="458.8" y1="302.0" x2="458.8" y2="308.8" stroke="#000" stroke-width="1.1"/>
<line x1="455.4" y1="302.0" x2="462.2" y2="302.0" stroke="#000" stroke-width="0.9"/>
<line x1="455.4" y1="308.8" x2="462.2" y2="308.8" stroke="#000" stroke-width="0.9"/>
<ellipse cx="458.8" cy="305.4" rx="3.6" ry="1.85" fill="#000"/>
<line x1="313.0" y1="341.2" x2="313.0" y2="358.2" stroke="#000" stroke-width="1.1"/>
<line x1="309.6" y1="341.2" x2="316.4" y2="341.2" stroke="#000" stroke-width="0.9"/>
<line x1="309.6" y1="358.2" x2="316.4" y2="358.2" stroke="#000" stroke-width="0.9"/>
<rect x="310.4" y="348.1" width="5.2" height="3.2" fill="none" stroke="#000" stroke-width="1.0"/>
<line x1="335.5" y1="344.4" x2="335.5" y2="354.6" stroke="#000" stroke-width="1.1"/>
<line x1="332.1" y1="344.4" x2="338.9" y2="344.4" stroke="#000" stroke-width="0.9"/>
<line x1="332.1" y1="354.6" x2="338.9" y2="354.6" stroke="#000" stroke-width="0.9"/>
<rect x="332.9" y="347.9" width="5.2" height="3.2" fill="none" stroke="#000" stroke-width="1.0"/>
<line x1="356.6" y1="342.0" x2="356.6" y2="357.8" stroke="#000" stroke-width="1.1"/>
<line x1="353.2" y1="342.0" x2="360.0" y2="342.0" stroke="#000" stroke-width="0.9"/>
<line x1="353.2" y1="357.8" x2="360.0" y2="357.8" stroke="#000" stroke-width="0.9"/>
<rect x="354.0" y="348.3" width="5.2" height="3.2" fill="none" stroke="#000" stroke-width="1.0"/>
<line x1="380.5" y1="319.0" x2="380.5" y2="332.6" stroke="#000" stroke-width="1.1"/>
<line x1="377.1" y1="319.0" x2="383.9" y2="319.0" stroke="#000" stroke-width="0.9"/>
<line x1="377.1" y1="332.6" x2="383.9" y2="332.6" stroke="#000" stroke-width="0.9"/>
<path d="M377.5,327.7 L383.5,327.7 L380.5,323.4 Z" fill="none" stroke="#000" stroke-width="1.0"/>
<line x1="446.1" y1="300.8" x2="446.1" y2="307.6" stroke="#000" stroke-width="1.1"/>
<line x1="442.7" y1="300.8" x2="449.5" y2="300.8" stroke="#000" stroke-width="0.9"/>
<line x1="442.7" y1="307.6" x2="449.5" y2="307.6" stroke="#000" stroke-width="0.9"/>
<path d="M443.1,306.1 L449.1,306.1 L446.1,301.8 Z" fill="none" stroke="#000" stroke-width="1.0"/>
<line x1="402.4" y1="310.9" x2="402.4" y2="322.3" stroke="#000" stroke-width="1.1"/>
<line x1="399.0" y1="310.9" x2="405.8" y2="310.9" stroke="#000" stroke-width="0.9"/>
<line x1="399.0" y1="322.3" x2="405.8" y2="322.3" stroke="#000" stroke-width="0.9"/>
<ellipse cx="402.4" cy="316.6" rx="2.9" ry="1.9" fill="none" stroke="#000" stroke-width="1.0"/>
<line x1="416.5" y1="308.5" x2="416.5" y2="319.1" stroke="#000" stroke-width="1.1"/>
<line x1="413.1" y1="308.5" x2="419.9" y2="308.5" stroke="#000" stroke-width="0.9"/>
<line x1="413.1" y1="319.1" x2="419.9" y2="319.1" stroke="#000" stroke-width="0.9"/>
<ellipse cx="416.5" cy="313.8" rx="2.9" ry="1.9" fill="none" stroke="#000" stroke-width="1.0"/>
<line x1="426.7" y1="310.2" x2="426.7" y2="318.2" stroke="#000" stroke-width="1.1"/>
<line x1="423.3" y1="310.2" x2="430.1" y2="310.2" stroke="#000" stroke-width="0.9"/>
<line x1="423.3" y1="318.2" x2="430.1" y2="318.2" stroke="#000" stroke-width="0.9"/>
<ellipse cx="426.7" cy="314.2" rx="2.9" ry="1.9" fill="none" stroke="#000" stroke-width="1.0"/>
<line x1="433.3" y1="294.6" x2="433.3" y2="315.4" stroke="#000" stroke-width="1.1"/>
<line x1="429.9" y1="294.6" x2="436.7" y2="294.6" stroke="#000" stroke-width="0.9"/>
<line x1="429.9" y1="315.4" x2="436.7" y2="315.4" stroke="#000" stroke-width="0.9"/>
<ellipse cx="433.2" cy="305.7" rx="2.9" ry="1.9" fill="none" stroke="#000" stroke-width="1.0"/>
<line x1="436.2" y1="294.3" x2="436.2" y2="312.4" stroke="#000" stroke-width="1.1"/>
<line x1="432.8" y1="294.3" x2="439.6" y2="294.3" stroke="#000" stroke-width="0.9"/>
<line x1="432.8" y1="312.4" x2="439.6" y2="312.4" stroke="#000" stroke-width="0.9"/>
<path d="M433.4,307.5 L439.4,307.5 L436.4,303.2 Z" fill="none" stroke="#000" stroke-width="1.0"/>
<ellipse cx="436.0" cy="297.9" rx="3.6" ry="1.85" fill="#000"/>
<line x1="273.3" y1="368.4" x2="273.3" y2="380.0" stroke="#000" stroke-width="1.1"/>
<line x1="269.9" y1="368.4" x2="276.7" y2="368.4" stroke="#000" stroke-width="0.9"/>
<line x1="269.9" y1="380.0" x2="276.7" y2="380.0" stroke="#000" stroke-width="0.9"/>
<line x1="283.9" y1="368.9" x2="283.9" y2="380.0" stroke="#000" stroke-width="1.1"/>
<line x1="280.5" y1="368.9" x2="287.3" y2="368.9" stroke="#000" stroke-width="0.9"/>
<line x1="280.5" y1="380.0" x2="287.3" y2="380.0" stroke="#000" stroke-width="0.9"/>
<text transform="translate(131.99,289.70) scale(1.641,1)" font-size="8.24" font-weight="normal" font-style="normal" fill="#000"  stroke="#000" stroke-width="0.18" paint-order="stroke">HET</text>
<text transform="translate(165.86,289.62) scale(2.094,1)" font-size="8.12" font-weight="normal" font-style="normal" fill="#000"  stroke="#000" stroke-width="0.18" paint-order="stroke">Xcorr</text>
<text transform="translate(212.63,289.62) scale(2.442,1)" font-size="7.66" font-weight="normal" font-style="normal" fill="#000"  stroke="#000" stroke-width="0.18" paint-order="stroke">radial</text>
<text transform="translate(262.70,289.65) scale(2.240,1)" font-size="7.69" font-weight="normal" font-style="normal" fill="#000"  stroke="#000" stroke-width="0.18" paint-order="stroke">velocity</text>
<ellipse cx="131.2" cy="294.8" rx="2.5" ry="1.45" fill="#000"/>
<text transform="translate(144.95,296.62) scale(1.927,1)" font-size="7.85" font-weight="normal" font-style="normal" fill="#000"  stroke="#000" stroke-width="0.18" paint-order="stroke">K0</text>
<text transform="translate(169.81,296.67) scale(2.514,1)" font-size="7.58" font-weight="normal" font-style="normal" fill="#000"  stroke="#000" stroke-width="0.18" paint-order="stroke">template</text>
<ellipse cx="131.2" cy="301.7" rx="1.9" ry="1.25" fill="none" stroke="#000" stroke-width="0.9"/>
<text transform="translate(145.61,303.60) scale(1.609,1)" font-size="8.03" font-weight="normal" font-style="normal" fill="#000"  stroke="#000" stroke-width="0.18" paint-order="stroke">M1</text>
<text transform="translate(169.81,303.57) scale(2.514,1)" font-size="7.58" font-weight="normal" font-style="normal" fill="#000"  stroke="#000" stroke-width="0.18" paint-order="stroke">template</text>
<path d="M129.3,309.7 L133.1,309.7 L131.2,307.2 Z" fill="none" stroke="#000" stroke-width="0.9"/>
<text transform="translate(145.62,310.42) scale(1.609,1)" font-size="7.91" font-weight="normal" font-style="normal" fill="#000"  stroke="#000" stroke-width="0.18" paint-order="stroke">M3</text>
<text transform="translate(169.81,310.47) scale(2.514,1)" font-size="7.58" font-weight="normal" font-style="normal" fill="#000"  stroke="#000" stroke-width="0.18" paint-order="stroke">template</text>
<rect x="129.4" y="314.4" width="3.6" height="2.2" fill="none" stroke="#000" stroke-width="0.9"/>
<text transform="translate(145.62,317.32) scale(1.597,1)" font-size="7.97" font-weight="normal" font-style="normal" fill="#000"  stroke="#000" stroke-width="0.18" paint-order="stroke">M5</text>
<text transform="translate(169.81,317.37) scale(2.514,1)" font-size="7.58" font-weight="normal" font-style="normal" fill="#000"  stroke="#000" stroke-width="0.18" paint-order="stroke">template</text>
<text transform="translate(413.59,374.60) scale(1.359,1)" font-size="10.30" font-weight="bold" font-style="normal" fill="#0000ff" >ELC</text>
<text transform="translate(449.59,374.60) scale(1.670,1)" font-size="9.79" font-weight="bold" font-style="normal" fill="#0000ff" >model</text>
<text transform="translate(498.85,374.60) scale(1.337,1)" font-size="9.79" font-weight="bold" font-style="normal" fill="#0000ff" >Gal</text>
</svg></body></html>
